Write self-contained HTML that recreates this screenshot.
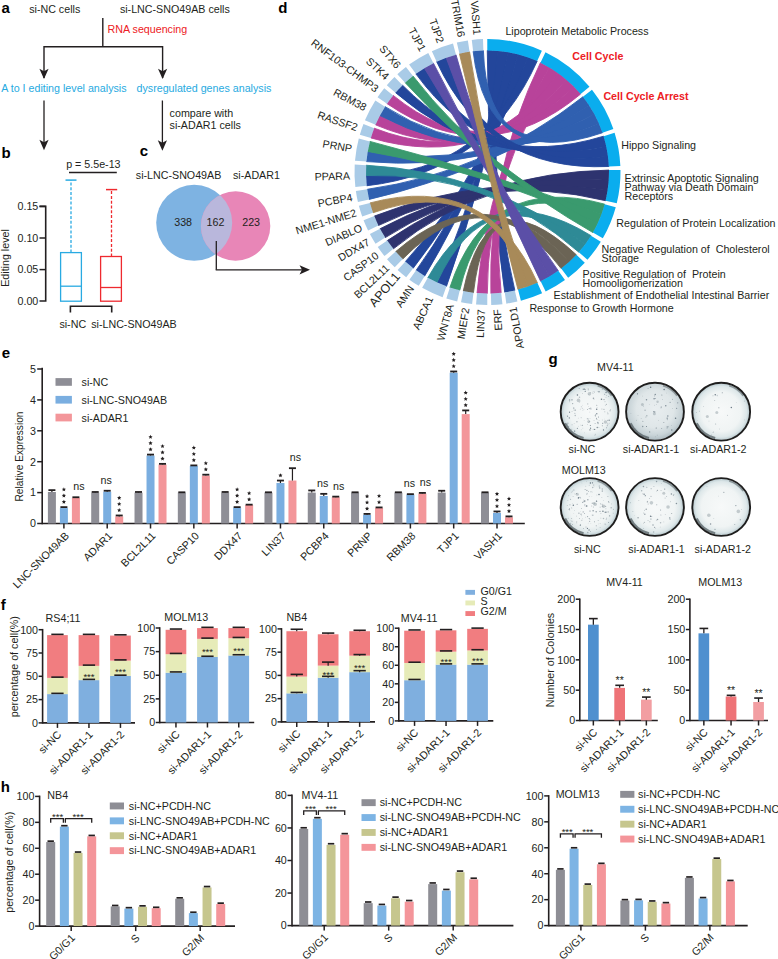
<!DOCTYPE html>
<html><head><meta charset="utf-8"><style>
html,body{margin:0;padding:0;background:#fff;}
svg{display:block;}
</style></head><body>
<svg width="778" height="959" viewBox="0 0 778 959">
<g font-family="'Liberation Sans', sans-serif" font-size="10.70" fill="#231f20">
<text x="1.50" y="12.70" font-size="15.00" fill="#000" font-weight="bold">a</text>
<text x="29.20" y="13.00">si-NC cells</text>
<text x="119.90" y="13.00">si-LNC-SNO49AB cells</text>
<line x1="102.80" y1="18.00" x2="102.80" y2="46.80" stroke="#231f20" stroke-width="1.40"/>
<text x="107.60" y="33.20" fill="#ed2024">RNA sequencing</text>
<path d="M44 78 L44 46.8 L162.6 46.8 L162.6 78" fill="none" stroke="#231f20" stroke-width="1.40"/>
<path d="M44 79.1 L39.4 68.7 L44 71.2 L48.6 68.7 Z" fill="#231f20" stroke="none" stroke-width="1.00"/>
<path d="M162.6 79.1 L158 68.7 L162.6 71.2 L167.2 68.7 Z" fill="#231f20" stroke="none" stroke-width="1.00"/>
<text x="1.20" y="91.80" fill="#27aae1">A to I editing level analysis</text>
<text x="136.50" y="91.80" fill="#27aae1">dysregulated genes analysis</text>
<line x1="44.00" y1="100.50" x2="44.00" y2="144.20" stroke="#231f20" stroke-width="1.30"/>
<path d="M44.00 150.20 L39.40 139.70 L44.00 142.20 L48.60 139.70 Z" fill="#231f20" stroke="none" stroke-width="1.00"/>
<line x1="162.40" y1="100.50" x2="162.40" y2="144.80" stroke="#231f20" stroke-width="1.30"/>
<path d="M162.40 150.80 L157.80 140.30 L162.40 142.80 L167.00 140.30 Z" fill="#231f20" stroke="none" stroke-width="1.00"/>
<text x="169.60" y="117.00">compare with</text>
<text x="169.60" y="129.30">si-ADAR1 cells</text>
<text x="1.50" y="157.50" font-size="15.00" fill="#000" font-weight="bold">b</text>
<text x="66.20" y="167.80">p = 5.5e-13</text>
<line x1="69.00" y1="172.40" x2="116.80" y2="172.40" stroke="#231f20" stroke-width="1.50"/>
<path d="M39.5 206.4 L45.7 206.4 L45.7 301 L39.5 301" fill="none" stroke="#231f20" stroke-width="1.60"/>
<line x1="39.50" y1="206.40" x2="45.70" y2="206.40" stroke="#231f20" stroke-width="1.50"/>
<line x1="39.50" y1="238.00" x2="45.70" y2="238.00" stroke="#231f20" stroke-width="1.50"/>
<line x1="39.50" y1="269.60" x2="45.70" y2="269.60" stroke="#231f20" stroke-width="1.50"/>
<text x="38.30" y="210.10" text-anchor="end">0.15</text>
<text x="38.30" y="241.70" text-anchor="end">0.10</text>
<text x="38.30" y="273.30" text-anchor="end">0.05</text>
<text x="38.30" y="304.70" text-anchor="end">0.00</text>
<text x="8.60" y="258.00" text-anchor="middle" transform="rotate(-90.00 8.60 258.00)">Editing level</text>
<rect x="60.6" y="252.6" width="20.8" height="48.6" fill="none" stroke="#29aae2" stroke-width="1.3"/>
<line x1="60.60" y1="286.20" x2="81.40" y2="286.20" stroke="#29aae2" stroke-width="1.30"/>
<line x1="71.00" y1="252.60" x2="71.00" y2="180.10" stroke="#29aae2" stroke-width="1.30" stroke-dasharray="3 1.8"/>
<line x1="65.50" y1="180.10" x2="76.50" y2="180.10" stroke="#29aae2" stroke-width="1.50"/>
<rect x="100.6" y="256.5" width="20.8" height="44.7" fill="none" stroke="#ee2a2f" stroke-width="1.3"/>
<line x1="100.60" y1="287.50" x2="121.40" y2="287.50" stroke="#ee2a2f" stroke-width="1.30"/>
<line x1="111.50" y1="256.50" x2="111.50" y2="189.60" stroke="#ee2a2f" stroke-width="1.30" stroke-dasharray="3 1.8"/>
<line x1="106.00" y1="189.60" x2="117.20" y2="189.60" stroke="#ee2a2f" stroke-width="1.50"/>
<path d="M70.4 312.5 L70.4 306.3 L111.7 306.3 L111.7 312.5" fill="none" stroke="#231f20" stroke-width="1.60"/>
<text x="59.40" y="327.80">si-NC</text>
<text x="91.20" y="327.80">si-LNC-SNO49AB</text>
<text x="139.80" y="155.50" font-size="15.00" fill="#000" font-weight="bold">c</text>
<text x="135.80" y="179.00">si-LNC-SNO49AB</text>
<text x="233.00" y="179.00">si-ADAR1</text>
<circle cx="194.2" cy="222.8" r="38" fill="#7eb3e2"/>
<circle cx="235.6" cy="226" r="34.7" fill="#e886b7"/>
<clipPath id="cb"><circle cx="194.2" cy="222.8" r="38"/></clipPath>
<circle cx="235.6" cy="226" r="34.7" fill="#b9b7dc" clip-path="url(#cb)"/>
<text x="174.20" y="226.20">338</text>
<text x="206.60" y="226.20">162</text>
<text x="242.20" y="226.20">223</text>
<line x1="216.30" y1="241.00" x2="216.30" y2="269.80" stroke="#231f20" stroke-width="1.30"/>
<line x1="215.70" y1="269.80" x2="304.00" y2="269.80" stroke="#231f20" stroke-width="1.30"/>
<path d="M310.00 269.80 L299.50 265.20 L302.00 269.80 L299.50 274.40 Z" fill="#231f20" stroke="none" stroke-width="1.00"/>
<text x="278.20" y="12.70" font-size="15.00" fill="#000" font-weight="bold">d</text>
<path d="M514.83 290.39 A121.50 121.50 0 0 1 504.73 292.27 Q487.50 172.00 487.29 50.50 A121.50 121.50 0 0 1 497.55 50.92 Q487.50 172.00 514.83 290.39 Z" fill="#23469b" stroke="#23469b" stroke-width="0.90"/>
<path d="M501.16 292.73 A121.50 121.50 0 0 1 490.91 293.45 Q487.50 172.00 540.45 62.64 A121.50 121.50 0 0 1 549.50 67.51 Q487.50 172.00 501.16 292.73 Z" fill="#b8439a" stroke="#b8439a" stroke-width="0.90"/>
<path d="M487.30 293.50 A121.50 121.50 0 0 1 477.04 293.05 Q487.50 172.00 549.50 67.51 A121.50 121.50 0 0 1 558.11 73.12 Q487.50 172.00 487.30 293.50 Z" fill="#b8439a" stroke="#b8439a" stroke-width="0.90"/>
<path d="M473.45 292.68 A121.50 121.50 0 0 1 463.30 291.07 Q487.50 172.00 576.40 254.82 A121.50 121.50 0 0 1 569.08 262.04 Q487.50 172.00 473.45 292.68 Z" fill="#6b6455" stroke="#6b6455" stroke-width="0.90"/>
<path d="M459.78 290.30 A121.50 121.50 0 0 1 449.88 287.53 Q487.50 172.00 604.67 204.14 A121.50 121.50 0 0 1 601.54 213.93 Q487.50 172.00 459.78 290.30 Z" fill="#3a9a6e" stroke="#3a9a6e" stroke-width="0.90"/>
<path d="M446.47 286.36 A121.50 121.50 0 0 1 436.96 282.49 Q487.50 172.00 497.55 50.92 A121.50 121.50 0 0 1 507.75 52.20 Q487.50 172.00 446.47 286.36 Z" fill="#23469b" stroke="#23469b" stroke-width="0.90"/>
<path d="M436.96 282.49 A121.50 121.50 0 0 1 427.80 277.82 Q487.50 172.00 591.01 235.63 A121.50 121.50 0 0 1 585.26 244.15 Q487.50 172.00 436.96 282.49 Z" fill="#2e8a96" stroke="#2e8a96" stroke-width="0.90"/>
<path d="M424.69 276.00 A121.50 121.50 0 0 1 416.13 270.33 Q487.50 172.00 507.75 52.20 A121.50 121.50 0 0 1 517.80 54.34 Q487.50 172.00 424.69 276.00 Z" fill="#23469b" stroke="#23469b" stroke-width="0.90"/>
<path d="M413.24 268.16 A121.50 121.50 0 0 1 405.38 261.55 Q487.50 172.00 517.80 54.34 A121.50 121.50 0 0 1 527.63 57.32 Q487.50 172.00 413.24 268.16 Z" fill="#23469b" stroke="#23469b" stroke-width="0.90"/>
<path d="M402.76 259.07 A121.50 121.50 0 0 1 395.71 251.60 Q487.50 172.00 569.08 262.04 A121.50 121.50 0 0 1 561.18 268.61 Q487.50 172.00 402.76 259.07 Z" fill="#6b6455" stroke="#6b6455" stroke-width="0.90"/>
<path d="M393.38 248.84 A121.50 121.50 0 0 1 387.23 240.61 Q487.50 172.00 608.98 170.09 A121.50 121.50 0 0 1 608.71 180.36 Q487.50 172.00 393.38 248.84 Z" fill="#2e336f" stroke="#2e336f" stroke-width="0.90"/>
<path d="M385.24 237.61 A121.50 121.50 0 0 1 380.06 228.73 Q487.50 172.00 608.71 180.36 A121.50 121.50 0 0 1 607.57 190.57 Q487.50 172.00 385.24 237.61 Z" fill="#2e336f" stroke="#2e336f" stroke-width="0.90"/>
<path d="M378.42 225.52 A121.50 121.50 0 0 1 374.29 216.11 Q487.50 172.00 607.57 190.57 A121.50 121.50 0 0 1 605.57 200.65 Q487.50 172.00 378.42 225.52 Z" fill="#2e336f" stroke="#2e336f" stroke-width="0.90"/>
<path d="M373.03 212.74 A121.50 121.50 0 0 1 370.00 202.92 Q487.50 172.00 537.38 282.79 A121.50 121.50 0 0 1 527.84 286.61 Q487.50 172.00 373.03 212.74 Z" fill="#a88a59" stroke="#a88a59" stroke-width="0.90"/>
<path d="M369.13 199.42 A121.50 121.50 0 0 1 367.24 189.32 Q487.50 172.00 582.94 96.81 A121.50 121.50 0 0 1 588.95 105.15 Q487.50 172.00 369.13 199.42 Z" fill="#3060b0" stroke="#3060b0" stroke-width="0.90"/>
<path d="M366.78 185.74 A121.50 121.50 0 0 1 366.05 175.49 Q487.50 172.00 527.63 57.32 A121.50 121.50 0 0 1 537.18 61.12 Q487.50 172.00 366.78 185.74 Z" fill="#23469b" stroke="#23469b" stroke-width="0.90"/>
<path d="M366.05 175.49 A121.50 121.50 0 0 1 366.19 165.22 Q487.50 172.00 585.26 244.15 A121.50 121.50 0 0 1 578.81 252.15 Q487.50 172.00 366.05 175.49 Z" fill="#2e8a96" stroke="#2e8a96" stroke-width="0.90"/>
<path d="M366.44 161.62 A121.50 121.50 0 0 1 367.75 151.43 Q487.50 172.00 588.95 105.15 A121.50 121.50 0 0 1 594.24 113.96 Q487.50 172.00 366.44 161.62 Z" fill="#3060b0" stroke="#3060b0" stroke-width="0.90"/>
<path d="M367.75 151.43 A121.50 121.50 0 0 1 369.92 141.39 Q487.50 172.00 601.54 213.93 A121.50 121.50 0 0 1 597.59 223.41 Q487.50 172.00 367.75 151.43 Z" fill="#3a9a6e" stroke="#3a9a6e" stroke-width="0.90"/>
<path d="M370.88 137.91 A121.50 121.50 0 0 1 374.18 128.18 Q487.50 172.00 558.11 73.12 A121.50 121.50 0 0 1 566.21 79.44 Q487.50 172.00 370.88 137.91 Z" fill="#b8439a" stroke="#b8439a" stroke-width="0.90"/>
<path d="M375.53 124.84 A121.50 121.50 0 0 1 379.91 115.55 Q487.50 172.00 566.21 79.44 A121.50 121.50 0 0 1 573.75 86.42 Q487.50 172.00 375.53 124.84 Z" fill="#b8439a" stroke="#b8439a" stroke-width="0.90"/>
<path d="M379.91 115.55 A121.50 121.50 0 0 1 385.07 106.66 Q487.50 172.00 594.24 113.96 A121.50 121.50 0 0 1 598.76 123.18 Q487.50 172.00 379.91 115.55 Z" fill="#3060b0" stroke="#3060b0" stroke-width="0.90"/>
<path d="M387.05 103.65 A121.50 121.50 0 0 1 393.18 95.40 Q487.50 172.00 573.75 86.42 A121.50 121.50 0 0 1 580.67 94.02 Q487.50 172.00 387.05 103.65 Z" fill="#b8439a" stroke="#b8439a" stroke-width="0.90"/>
<path d="M395.50 92.64 A121.50 121.50 0 0 1 402.53 85.15 Q487.50 172.00 603.60 136.19 A121.50 121.50 0 0 1 606.21 146.13 Q487.50 172.00 395.50 92.64 Z" fill="#23469b" stroke="#23469b" stroke-width="0.90"/>
<path d="M405.15 82.67 A121.50 121.50 0 0 1 412.99 76.03 Q487.50 172.00 597.59 223.41 A121.50 121.50 0 0 1 592.85 232.53 Q487.50 172.00 405.15 82.67 Z" fill="#3a9a6e" stroke="#3a9a6e" stroke-width="0.90"/>
<path d="M415.87 73.86 A121.50 121.50 0 0 1 424.42 68.16 Q487.50 172.00 606.21 146.13 A121.50 121.50 0 0 1 607.97 156.25 Q487.50 172.00 415.87 73.86 Z" fill="#23469b" stroke="#23469b" stroke-width="0.90"/>
<path d="M424.42 68.16 A121.50 121.50 0 0 1 433.42 63.20 Q487.50 172.00 558.28 270.75 A121.50 121.50 0 0 1 549.68 276.38 Q487.50 172.00 424.42 68.16 Z" fill="#5b4fa7" stroke="#5b4fa7" stroke-width="0.90"/>
<path d="M436.67 61.64 A121.50 121.50 0 0 1 446.18 57.74 Q487.50 172.00 607.97 156.25 A121.50 121.50 0 0 1 608.87 166.49 Q487.50 172.00 436.67 61.64 Z" fill="#23469b" stroke="#23469b" stroke-width="0.90"/>
<path d="M446.18 57.74 A121.50 121.50 0 0 1 455.98 54.66 Q487.50 172.00 549.68 276.38 A121.50 121.50 0 0 1 540.64 281.26 Q487.50 172.00 446.18 57.74 Z" fill="#5b4fa7" stroke="#5b4fa7" stroke-width="0.90"/>
<path d="M459.47 53.78 A121.50 121.50 0 0 1 469.56 51.83 Q487.50 172.00 527.84 286.61 A121.50 121.50 0 0 1 518.01 289.61 Q487.50 172.00 459.47 53.78 Z" fill="#a88a59" stroke="#a88a59" stroke-width="0.90"/>
<path d="M473.13 51.35 A121.50 121.50 0 0 1 483.38 50.57 Q487.50 172.00 598.76 123.18 A121.50 121.50 0 0 1 602.49 132.76 Q487.50 172.00 473.13 51.35 Z" fill="#3060b0" stroke="#3060b0" stroke-width="0.90"/>
<path d="M487.27 39.00 A133.00 133.00 0 0 1 541.88 50.63 L537.18 61.12 A121.50 121.50 0 0 0 487.29 50.50 Z" fill="#0aadee" stroke="none" stroke-width="1.00"/>
<path d="M545.46 52.29 A133.00 133.00 0 0 1 589.49 86.63 L580.67 94.02 A121.50 121.50 0 0 0 540.45 62.64 Z" fill="#0aadee" stroke="none" stroke-width="1.00"/>
<path d="M591.98 89.70 A133.00 133.00 0 0 1 613.37 129.05 L602.49 132.76 A121.50 121.50 0 0 0 582.94 96.81 Z" fill="#0aadee" stroke="none" stroke-width="1.00"/>
<path d="M614.59 132.80 A133.00 133.00 0 0 1 620.36 165.96 L608.87 166.49 A121.50 121.50 0 0 0 603.60 136.19 Z" fill="#0aadee" stroke="none" stroke-width="1.00"/>
<path d="M620.48 169.91 A133.00 133.00 0 0 1 616.75 203.36 L605.57 200.65 A121.50 121.50 0 0 0 608.98 170.09 Z" fill="#0aadee" stroke="none" stroke-width="1.00"/>
<path d="M615.76 207.18 A133.00 133.00 0 0 1 602.82 238.26 L592.85 232.53 A121.50 121.50 0 0 0 604.67 204.14 Z" fill="#0aadee" stroke="none" stroke-width="1.00"/>
<path d="M600.80 241.65 A133.00 133.00 0 0 1 587.46 259.74 L578.81 252.15 A121.50 121.50 0 0 0 591.01 235.63 Z" fill="#0aadee" stroke="none" stroke-width="1.00"/>
<path d="M584.81 262.66 A133.00 133.00 0 0 1 568.15 277.75 L561.18 268.61 A121.50 121.50 0 0 0 576.40 254.82 Z" fill="#0aadee" stroke="none" stroke-width="1.00"/>
<path d="M564.98 280.10 A133.00 133.00 0 0 1 545.67 291.60 L540.64 281.26 A121.50 121.50 0 0 0 558.28 270.75 Z" fill="#0aadee" stroke="none" stroke-width="1.00"/>
<path d="M542.10 293.28 A133.00 133.00 0 0 1 520.90 300.74 L518.01 289.61 A121.50 121.50 0 0 0 537.38 282.79 Z" fill="#0aadee" stroke="none" stroke-width="1.00"/>
<path d="M517.42 301.59 A133.00 133.00 0 0 1 506.36 303.66 L504.73 292.27 A121.50 121.50 0 0 0 514.83 290.39 Z" fill="#a9cbe7" stroke="none" stroke-width="1.00"/>
<path d="M502.45 304.16 A133.00 133.00 0 0 1 491.23 304.95 L490.91 293.45 A121.50 121.50 0 0 0 501.16 292.73 Z" fill="#a9cbe7" stroke="none" stroke-width="1.00"/>
<path d="M487.28 305.00 A133.00 133.00 0 0 1 476.04 304.51 L477.04 293.05 A121.50 121.50 0 0 0 487.30 293.50 Z" fill="#a9cbe7" stroke="none" stroke-width="1.00"/>
<path d="M472.12 304.11 A133.00 133.00 0 0 1 461.01 302.34 L463.30 291.07 A121.50 121.50 0 0 0 473.45 292.68 Z" fill="#a9cbe7" stroke="none" stroke-width="1.00"/>
<path d="M457.16 301.49 A133.00 133.00 0 0 1 446.32 298.47 L449.88 287.53 A121.50 121.50 0 0 0 459.78 290.30 Z" fill="#a9cbe7" stroke="none" stroke-width="1.00"/>
<path d="M442.59 297.19 A133.00 133.00 0 0 1 422.15 287.84 L427.80 277.82 A121.50 121.50 0 0 0 446.47 286.36 Z" fill="#a9cbe7" stroke="none" stroke-width="1.00"/>
<path d="M418.74 285.85 A133.00 133.00 0 0 1 409.37 279.63 L416.13 270.33 A121.50 121.50 0 0 0 424.69 276.00 Z" fill="#a9cbe7" stroke="none" stroke-width="1.00"/>
<path d="M406.21 277.27 A133.00 133.00 0 0 1 397.61 270.02 L405.38 261.55 A121.50 121.50 0 0 0 413.24 268.16 Z" fill="#a9cbe7" stroke="none" stroke-width="1.00"/>
<path d="M394.74 267.31 A133.00 133.00 0 0 1 387.02 259.13 L395.71 251.60 A121.50 121.50 0 0 0 402.76 259.07 Z" fill="#a9cbe7" stroke="none" stroke-width="1.00"/>
<path d="M384.48 256.11 A133.00 133.00 0 0 1 377.74 247.11 L387.23 240.61 A121.50 121.50 0 0 0 393.38 248.84 Z" fill="#a9cbe7" stroke="none" stroke-width="1.00"/>
<path d="M375.56 243.82 A133.00 133.00 0 0 1 369.89 234.10 L380.06 228.73 A121.50 121.50 0 0 0 385.24 237.61 Z" fill="#a9cbe7" stroke="none" stroke-width="1.00"/>
<path d="M368.10 230.59 A133.00 133.00 0 0 1 363.58 220.29 L374.29 216.11 A121.50 121.50 0 0 0 378.42 225.52 Z" fill="#a9cbe7" stroke="none" stroke-width="1.00"/>
<path d="M362.20 216.59 A133.00 133.00 0 0 1 358.88 205.84 L370.00 202.92 A121.50 121.50 0 0 0 373.03 212.74 Z" fill="#a9cbe7" stroke="none" stroke-width="1.00"/>
<path d="M357.93 202.01 A133.00 133.00 0 0 1 355.86 190.96 L367.24 189.32 A121.50 121.50 0 0 0 369.13 199.42 Z" fill="#a9cbe7" stroke="none" stroke-width="1.00"/>
<path d="M355.35 187.04 A133.00 133.00 0 0 1 354.71 164.58 L366.19 165.22 A121.50 121.50 0 0 0 366.78 185.74 Z" fill="#a9cbe7" stroke="none" stroke-width="1.00"/>
<path d="M354.99 160.64 A133.00 133.00 0 0 1 358.79 138.49 L369.92 141.39 A121.50 121.50 0 0 0 366.44 161.62 Z" fill="#a9cbe7" stroke="none" stroke-width="1.00"/>
<path d="M359.84 134.69 A133.00 133.00 0 0 1 363.45 124.03 L374.18 128.18 A121.50 121.50 0 0 0 370.88 137.91 Z" fill="#a9cbe7" stroke="none" stroke-width="1.00"/>
<path d="M364.93 120.37 A133.00 133.00 0 0 1 375.37 100.47 L385.07 106.66 A121.50 121.50 0 0 0 375.53 124.84 Z" fill="#a9cbe7" stroke="none" stroke-width="1.00"/>
<path d="M377.54 97.18 A133.00 133.00 0 0 1 384.26 88.15 L393.18 95.40 A121.50 121.50 0 0 0 387.05 103.65 Z" fill="#a9cbe7" stroke="none" stroke-width="1.00"/>
<path d="M386.79 85.13 A133.00 133.00 0 0 1 394.49 76.93 L402.53 85.15 A121.50 121.50 0 0 0 395.50 92.64 Z" fill="#a9cbe7" stroke="none" stroke-width="1.00"/>
<path d="M397.35 74.21 A133.00 133.00 0 0 1 405.94 66.94 L412.99 76.03 A121.50 121.50 0 0 0 405.15 82.67 Z" fill="#a9cbe7" stroke="none" stroke-width="1.00"/>
<path d="M409.09 64.57 A133.00 133.00 0 0 1 428.30 52.90 L433.42 63.20 A121.50 121.50 0 0 0 415.87 73.86 Z" fill="#a9cbe7" stroke="none" stroke-width="1.00"/>
<path d="M431.86 51.20 A133.00 133.00 0 0 1 452.99 43.55 L455.98 54.66 A121.50 121.50 0 0 0 436.67 61.64 Z" fill="#a9cbe7" stroke="none" stroke-width="1.00"/>
<path d="M456.82 42.59 A133.00 133.00 0 0 1 467.86 40.46 L469.56 51.83 A121.50 121.50 0 0 0 459.47 53.78 Z" fill="#a9cbe7" stroke="none" stroke-width="1.00"/>
<path d="M471.78 39.93 A133.00 133.00 0 0 1 482.99 39.08 L483.38 50.57 A121.50 121.50 0 0 0 473.13 51.35 Z" fill="#a9cbe7" stroke="none" stroke-width="1.00"/>
<text x="516.28" y="306.50" text-anchor="end" transform="rotate(-100.58 516.28 306.50)">APOLD1</text>
<text x="500.75" y="308.91" text-anchor="end" transform="rotate(-94.03 500.75 308.91)">ERF</text>
<text x="485.06" y="309.53" text-anchor="end" transform="rotate(-87.48 485.06 309.53)">LIN37</text>
<text x="469.39" y="308.35" text-anchor="end" transform="rotate(-80.94 469.39 308.35)">MIEF2</text>
<text x="453.96" y="305.40" text-anchor="end" transform="rotate(-74.39 453.96 305.40)">WNT8A</text>
<text x="433.57" y="298.54" text-anchor="end" transform="rotate(-65.42 433.57 298.54)">ABCA1</text>
<text x="414.50" y="288.58" text-anchor="end" transform="rotate(-56.45 414.50 288.58)">AMN</text>
<text x="400.82" y="276.81" font-size="12.50" text-anchor="end" transform="rotate(-49.90 400.82 276.81)">APOL1</text>
<text x="389.99" y="269.01" text-anchor="end" transform="rotate(-43.35 389.99 269.01)">BCL2L11</text>
<text x="379.57" y="257.26" text-anchor="end" transform="rotate(-36.81 379.57 257.26)">CASP10</text>
<text x="370.55" y="244.40" text-anchor="end" transform="rotate(-30.26 370.55 244.40)">DDX47</text>
<text x="363.06" y="230.59" text-anchor="end" transform="rotate(-23.71 363.06 230.59)">DIABLO</text>
<text x="357.19" y="216.02" text-anchor="end" transform="rotate(-17.17 357.19 216.02)">NME1-NME2</text>
<text x="353.02" y="200.88" text-anchor="end" transform="rotate(-10.62 353.02 200.88)">PCBP4</text>
<text x="350.16" y="179.55" text-anchor="end" transform="rotate(-1.65 350.16 179.55)">PPARA</text>
<text x="351.38" y="152.27" text-anchor="end" transform="rotate(9.75 351.38 152.27)">PRNP</text>
<text x="356.12" y="131.29" text-anchor="end" transform="rotate(18.72 356.12 131.29)">RASSF2</text>
<text x="364.07" y="111.30" text-anchor="end" transform="rotate(27.69 364.07 111.30)">RBM38</text>
<text x="375.05" y="92.80" text-anchor="end" transform="rotate(36.66 375.05 92.80)">RNF103-CHMP3</text>
<text x="384.81" y="80.49" text-anchor="end" transform="rotate(43.20 384.81 80.49)">STK4</text>
<text x="395.91" y="69.38" text-anchor="end" transform="rotate(49.75 395.91 69.38)">STX6</text>
<text x="419.82" y="52.26" text-anchor="end" transform="rotate(62.02 419.82 52.26)">TJP1</text>
<text x="437.35" y="43.92" text-anchor="end" transform="rotate(70.12 437.35 43.92)">TJP2</text>
<text x="457.93" y="37.67" text-anchor="end" transform="rotate(79.09 457.93 37.67)">TRIM16</text>
<text x="473.44" y="35.17" text-anchor="end" transform="rotate(85.63 473.44 35.17)">VASH1</text>
<text x="505.40" y="35.00">Lipoprotein Metabolic Process</text>
<text x="572.30" y="59.60" fill="#ed2024" font-weight="bold">Cell Cycle</text>
<text x="603.40" y="100.40" fill="#ed2024" font-weight="bold">Cell Cycle Arrest</text>
<text x="621.20" y="149.30">Hippo Signaling</text>
<text x="624.50" y="181.50">Extrinsic Apoptotic Signaling</text>
<text x="624.50" y="190.70">Pathway via Death Domain</text>
<text x="624.50" y="199.90">Receptors</text>
<text x="616.30" y="226.50">Regulation of Protein Localization</text>
<text x="601.60" y="253.10">Negative Regulation of  Cholesterol</text>
<text x="601.60" y="262.30">Storage</text>
<text x="582.60" y="277.60">Positive Regulation of  Protein</text>
<text x="582.60" y="286.80">Homooligomerization</text>
<text x="553.60" y="299.00">Establishment of Endothelial Intestinal Barrier</text>
<text x="529.40" y="312.00">Response to Growth Hormone</text>
<text x="1.80" y="358.30" font-size="15.00" fill="#000" font-weight="bold">e</text>
<line x1="42.20" y1="367.80" x2="42.20" y2="524.30" stroke="#231f20" stroke-width="1.60"/>
<line x1="37.20" y1="523.50" x2="42.20" y2="523.50" stroke="#231f20" stroke-width="1.50"/>
<text x="35.90" y="527.30" text-anchor="end">0</text>
<line x1="37.20" y1="492.60" x2="42.20" y2="492.60" stroke="#231f20" stroke-width="1.50"/>
<text x="35.90" y="496.40" text-anchor="end">1</text>
<line x1="37.20" y1="461.70" x2="42.20" y2="461.70" stroke="#231f20" stroke-width="1.50"/>
<text x="35.90" y="465.50" text-anchor="end">2</text>
<line x1="37.20" y1="430.80" x2="42.20" y2="430.80" stroke="#231f20" stroke-width="1.50"/>
<text x="35.90" y="434.60" text-anchor="end">3</text>
<line x1="37.20" y1="399.90" x2="42.20" y2="399.90" stroke="#231f20" stroke-width="1.50"/>
<text x="35.90" y="403.70" text-anchor="end">4</text>
<line x1="37.20" y1="369.00" x2="42.20" y2="369.00" stroke="#231f20" stroke-width="1.50"/>
<text x="35.90" y="372.80" text-anchor="end">5</text>
<line x1="42.20" y1="523.50" x2="524.80" y2="523.50" stroke="#231f20" stroke-width="1.60"/>
<text x="23.40" y="456.50" font-size="10.20" text-anchor="middle" transform="rotate(-90.00 23.40 456.50)">Relative Expression</text>
<rect x="55.50" y="378.10" width="16.40" height="7.70" fill="#8e8e96"/>
<text x="81.60" y="385.90">si-NC</text>
<rect x="55.50" y="395.90" width="16.40" height="7.70" fill="#7aaee0"/>
<text x="81.60" y="403.70">si-LNC-SNO49AB</text>
<rect x="55.50" y="413.70" width="16.40" height="7.70" fill="#f3969a"/>
<text x="81.60" y="421.50">si-ADAR1</text>
<rect x="47.90" y="491.98" width="8.00" height="31.52" fill="#8e8e96"/>
<line x1="51.90" y1="491.98" x2="51.90" y2="490.13" stroke="#231f20" stroke-width="1.20"/>
<line x1="48.40" y1="490.13" x2="55.40" y2="490.13" stroke="#231f20" stroke-width="1.80"/>
<rect x="59.90" y="508.05" width="8.00" height="15.45" fill="#7aaee0"/>
<line x1="63.90" y1="508.05" x2="63.90" y2="507.12" stroke="#231f20" stroke-width="1.20"/>
<line x1="60.40" y1="507.12" x2="67.40" y2="507.12" stroke="#231f20" stroke-width="1.80"/>
<rect x="71.90" y="497.85" width="8.00" height="25.65" fill="#f3969a"/>
<line x1="75.90" y1="497.85" x2="75.90" y2="497.24" stroke="#231f20" stroke-width="1.20"/>
<line x1="72.40" y1="497.24" x2="79.40" y2="497.24" stroke="#231f20" stroke-width="1.80"/>
<polygon points="63.90 499.72 64.52 501.07 65.99 501.24 64.90 502.25 65.19 503.70 63.90 502.98 62.61 503.70 62.90 502.25 61.81 501.24 63.28 501.07" fill="#231f20"/>
<polygon points="63.90 493.52 64.52 494.87 65.99 495.04 64.90 496.05 65.19 497.50 63.90 496.78 62.61 497.50 62.90 496.05 61.81 495.04 63.28 494.87" fill="#231f20"/>
<polygon points="63.90 487.32 64.52 488.67 65.99 488.84 64.90 489.85 65.19 491.30 63.90 490.58 62.61 491.30 62.90 489.85 61.81 488.84 63.28 488.67" fill="#231f20"/>
<text x="78.90" y="490.24" text-anchor="middle">ns</text>
<line x1="63.90" y1="523.50" x2="63.90" y2="528.50" stroke="#231f20" stroke-width="1.50"/>
<text x="69.70" y="536.50" text-anchor="end" transform="rotate(-45.00 69.70 536.50)">LNC-SNO49AB</text>
<rect x="91.21" y="492.60" width="8.00" height="30.90" fill="#8e8e96"/>
<line x1="95.21" y1="492.60" x2="95.21" y2="491.98" stroke="#231f20" stroke-width="1.20"/>
<line x1="91.71" y1="491.98" x2="98.71" y2="491.98" stroke="#231f20" stroke-width="1.80"/>
<rect x="103.21" y="491.67" width="8.00" height="31.83" fill="#7aaee0"/>
<line x1="107.21" y1="491.67" x2="107.21" y2="490.75" stroke="#231f20" stroke-width="1.20"/>
<line x1="103.71" y1="490.75" x2="110.71" y2="490.75" stroke="#231f20" stroke-width="1.80"/>
<rect x="115.21" y="516.39" width="8.00" height="7.11" fill="#f3969a"/>
<line x1="119.21" y1="516.39" x2="119.21" y2="515.47" stroke="#231f20" stroke-width="1.20"/>
<line x1="115.71" y1="515.47" x2="122.71" y2="515.47" stroke="#231f20" stroke-width="1.80"/>
<text x="106.21" y="483.75" text-anchor="middle">ns</text>
<polygon points="119.21 508.07 119.83 509.41 121.30 509.59 120.21 510.59 120.50 512.05 119.21 511.32 117.92 512.05 118.21 510.59 117.12 509.59 118.59 509.41" fill="#231f20"/>
<polygon points="119.21 501.87 119.83 503.21 121.30 503.39 120.21 504.39 120.50 505.85 119.21 505.12 117.92 505.85 118.21 504.39 117.12 503.39 118.59 503.21" fill="#231f20"/>
<polygon points="119.21 495.67 119.83 497.01 121.30 497.19 120.21 498.19 120.50 499.65 119.21 498.92 117.92 499.65 118.21 498.19 117.12 497.19 118.59 497.01" fill="#231f20"/>
<line x1="107.21" y1="523.50" x2="107.21" y2="528.50" stroke="#231f20" stroke-width="1.50"/>
<text x="113.01" y="536.50" text-anchor="end" transform="rotate(-45.00 113.01 536.50)">ADAR1</text>
<rect x="134.52" y="492.60" width="8.00" height="30.90" fill="#8e8e96"/>
<line x1="138.52" y1="492.60" x2="138.52" y2="491.98" stroke="#231f20" stroke-width="1.20"/>
<line x1="135.02" y1="491.98" x2="142.02" y2="491.98" stroke="#231f20" stroke-width="1.80"/>
<rect x="146.52" y="455.52" width="8.00" height="67.98" fill="#7aaee0"/>
<line x1="150.52" y1="455.52" x2="150.52" y2="454.59" stroke="#231f20" stroke-width="1.20"/>
<line x1="147.02" y1="454.59" x2="154.02" y2="454.59" stroke="#231f20" stroke-width="1.80"/>
<rect x="158.52" y="464.48" width="8.00" height="59.02" fill="#f3969a"/>
<line x1="162.52" y1="464.48" x2="162.52" y2="463.86" stroke="#231f20" stroke-width="1.20"/>
<line x1="159.02" y1="463.86" x2="166.02" y2="463.86" stroke="#231f20" stroke-width="1.80"/>
<polygon points="150.52 447.19 151.14 448.54 152.61 448.71 151.52 449.72 151.81 451.17 150.52 450.45 149.23 451.17 149.52 449.72 148.43 448.71 149.90 448.54" fill="#231f20"/>
<polygon points="150.52 440.99 151.14 442.34 152.61 442.51 151.52 443.52 151.81 444.97 150.52 444.25 149.23 444.97 149.52 443.52 148.43 442.51 149.90 442.34" fill="#231f20"/>
<polygon points="150.52 434.79 151.14 436.14 152.61 436.31 151.52 437.32 151.81 438.77 150.52 438.05 149.23 438.77 149.52 437.32 148.43 436.31 149.90 436.14" fill="#231f20"/>
<polygon points="162.52 456.46 163.14 457.81 164.61 457.98 163.52 458.99 163.81 460.44 162.52 459.72 161.23 460.44 161.52 458.99 160.43 457.98 161.90 457.81" fill="#231f20"/>
<polygon points="162.52 450.26 163.14 451.61 164.61 451.78 163.52 452.79 163.81 454.24 162.52 453.52 161.23 454.24 161.52 452.79 160.43 451.78 161.90 451.61" fill="#231f20"/>
<polygon points="162.52 444.06 163.14 445.41 164.61 445.58 163.52 446.59 163.81 448.04 162.52 447.32 161.23 448.04 161.52 446.59 160.43 445.58 161.90 445.41" fill="#231f20"/>
<line x1="150.52" y1="523.50" x2="150.52" y2="528.50" stroke="#231f20" stroke-width="1.50"/>
<text x="156.32" y="536.50" text-anchor="end" transform="rotate(-45.00 156.32 536.50)">BCL2L11</text>
<rect x="177.83" y="492.60" width="8.00" height="30.90" fill="#8e8e96"/>
<line x1="178.33" y1="492.29" x2="185.33" y2="492.29" stroke="#231f20" stroke-width="1.80"/>
<rect x="189.83" y="466.03" width="8.00" height="57.47" fill="#7aaee0"/>
<line x1="193.83" y1="466.03" x2="193.83" y2="465.41" stroke="#231f20" stroke-width="1.20"/>
<line x1="190.33" y1="465.41" x2="197.33" y2="465.41" stroke="#231f20" stroke-width="1.80"/>
<rect x="201.83" y="475.61" width="8.00" height="47.89" fill="#f3969a"/>
<line x1="205.83" y1="475.61" x2="205.83" y2="474.68" stroke="#231f20" stroke-width="1.20"/>
<line x1="202.33" y1="474.68" x2="209.33" y2="474.68" stroke="#231f20" stroke-width="1.80"/>
<polygon points="193.83 458.01 194.45 459.35 195.92 459.53 194.83 460.53 195.12 461.99 193.83 461.26 192.54 461.99 192.83 460.53 191.74 459.53 193.21 459.35" fill="#231f20"/>
<polygon points="193.83 451.81 194.45 453.15 195.92 453.33 194.83 454.33 195.12 455.79 193.83 455.06 192.54 455.79 192.83 454.33 191.74 453.33 193.21 453.15" fill="#231f20"/>
<polygon points="193.83 445.61 194.45 446.95 195.92 447.13 194.83 448.13 195.12 449.59 193.83 448.86 192.54 449.59 192.83 448.13 191.74 447.13 193.21 446.95" fill="#231f20"/>
<polygon points="205.83 467.28 206.45 468.62 207.92 468.80 206.83 469.80 207.12 471.26 205.83 470.53 204.54 471.26 204.83 469.80 203.74 468.80 205.21 468.62" fill="#231f20"/>
<polygon points="205.83 461.08 206.45 462.42 207.92 462.60 206.83 463.60 207.12 465.06 205.83 464.33 204.54 465.06 204.83 463.60 203.74 462.60 205.21 462.42" fill="#231f20"/>
<line x1="193.83" y1="523.50" x2="193.83" y2="528.50" stroke="#231f20" stroke-width="1.50"/>
<text x="199.63" y="536.50" text-anchor="end" transform="rotate(-45.00 199.63 536.50)">CASP10</text>
<rect x="221.14" y="492.60" width="8.00" height="30.90" fill="#8e8e96"/>
<line x1="225.14" y1="492.60" x2="225.14" y2="491.98" stroke="#231f20" stroke-width="1.20"/>
<line x1="221.64" y1="491.98" x2="228.64" y2="491.98" stroke="#231f20" stroke-width="1.80"/>
<rect x="233.14" y="507.74" width="8.00" height="15.76" fill="#7aaee0"/>
<line x1="237.14" y1="507.74" x2="237.14" y2="507.12" stroke="#231f20" stroke-width="1.20"/>
<line x1="233.64" y1="507.12" x2="240.64" y2="507.12" stroke="#231f20" stroke-width="1.80"/>
<rect x="245.14" y="504.96" width="8.00" height="18.54" fill="#f3969a"/>
<line x1="245.64" y1="504.65" x2="252.64" y2="504.65" stroke="#231f20" stroke-width="1.80"/>
<polygon points="237.14 499.72 237.76 501.07 239.23 501.24 238.14 502.25 238.43 503.70 237.14 502.98 235.85 503.70 236.14 502.25 235.05 501.24 236.52 501.07" fill="#231f20"/>
<polygon points="237.14 493.52 237.76 494.87 239.23 495.04 238.14 496.05 238.43 497.50 237.14 496.78 235.85 497.50 236.14 496.05 235.05 495.04 236.52 494.87" fill="#231f20"/>
<polygon points="237.14 487.32 237.76 488.67 239.23 488.84 238.14 489.85 238.43 491.30 237.14 490.58 235.85 491.30 236.14 489.85 235.05 488.84 236.52 488.67" fill="#231f20"/>
<polygon points="249.14 497.25 249.76 498.60 251.23 498.77 250.14 499.78 250.43 501.23 249.14 500.51 247.85 501.23 248.14 499.78 247.05 498.77 248.52 498.60" fill="#231f20"/>
<polygon points="249.14 491.05 249.76 492.40 251.23 492.57 250.14 493.58 250.43 495.03 249.14 494.31 247.85 495.03 248.14 493.58 247.05 492.57 248.52 492.40" fill="#231f20"/>
<line x1="237.14" y1="523.50" x2="237.14" y2="528.50" stroke="#231f20" stroke-width="1.50"/>
<text x="242.94" y="536.50" text-anchor="end" transform="rotate(-45.00 242.94 536.50)">DDX47</text>
<rect x="264.45" y="492.60" width="8.00" height="30.90" fill="#8e8e96"/>
<line x1="264.95" y1="492.29" x2="271.95" y2="492.29" stroke="#231f20" stroke-width="1.80"/>
<rect x="276.45" y="483.02" width="8.00" height="40.48" fill="#7aaee0"/>
<line x1="280.45" y1="483.02" x2="280.45" y2="480.55" stroke="#231f20" stroke-width="1.20"/>
<line x1="276.95" y1="480.55" x2="283.95" y2="480.55" stroke="#231f20" stroke-width="1.80"/>
<rect x="288.45" y="480.55" width="8.00" height="42.95" fill="#f3969a"/>
<line x1="292.45" y1="480.55" x2="292.45" y2="468.19" stroke="#231f20" stroke-width="1.20"/>
<line x1="288.95" y1="468.19" x2="295.95" y2="468.19" stroke="#231f20" stroke-width="1.80"/>
<polygon points="280.45 473.15 281.07 474.49 282.54 474.67 281.45 475.68 281.74 477.13 280.45 476.40 279.16 477.13 279.45 475.68 278.36 474.67 279.83 474.49" fill="#231f20"/>
<text x="295.45" y="461.19" text-anchor="middle">ns</text>
<line x1="280.45" y1="523.50" x2="280.45" y2="528.50" stroke="#231f20" stroke-width="1.50"/>
<text x="286.25" y="536.50" text-anchor="end" transform="rotate(-45.00 286.25 536.50)">LIN37</text>
<rect x="307.76" y="492.60" width="8.00" height="30.90" fill="#8e8e96"/>
<line x1="311.76" y1="492.60" x2="311.76" y2="490.44" stroke="#231f20" stroke-width="1.20"/>
<line x1="308.26" y1="490.44" x2="315.26" y2="490.44" stroke="#231f20" stroke-width="1.80"/>
<rect x="319.76" y="496.00" width="8.00" height="27.50" fill="#7aaee0"/>
<line x1="323.76" y1="496.00" x2="323.76" y2="493.84" stroke="#231f20" stroke-width="1.20"/>
<line x1="320.26" y1="493.84" x2="327.26" y2="493.84" stroke="#231f20" stroke-width="1.80"/>
<rect x="331.76" y="497.24" width="8.00" height="26.26" fill="#f3969a"/>
<line x1="335.76" y1="497.24" x2="335.76" y2="496.62" stroke="#231f20" stroke-width="1.20"/>
<line x1="332.26" y1="496.62" x2="339.26" y2="496.62" stroke="#231f20" stroke-width="1.80"/>
<text x="322.76" y="486.84" text-anchor="middle">ns</text>
<text x="338.76" y="489.62" text-anchor="middle">ns</text>
<line x1="323.76" y1="523.50" x2="323.76" y2="528.50" stroke="#231f20" stroke-width="1.50"/>
<text x="329.56" y="536.50" text-anchor="end" transform="rotate(-45.00 329.56 536.50)">PCBP4</text>
<rect x="351.07" y="492.60" width="8.00" height="30.90" fill="#8e8e96"/>
<line x1="351.57" y1="492.29" x2="358.57" y2="492.29" stroke="#231f20" stroke-width="1.80"/>
<rect x="363.07" y="514.85" width="8.00" height="8.65" fill="#7aaee0"/>
<line x1="367.07" y1="514.85" x2="367.07" y2="513.92" stroke="#231f20" stroke-width="1.20"/>
<line x1="363.57" y1="513.92" x2="370.57" y2="513.92" stroke="#231f20" stroke-width="1.80"/>
<rect x="375.07" y="508.05" width="8.00" height="15.45" fill="#f3969a"/>
<line x1="379.07" y1="508.05" x2="379.07" y2="507.43" stroke="#231f20" stroke-width="1.20"/>
<line x1="375.57" y1="507.43" x2="382.57" y2="507.43" stroke="#231f20" stroke-width="1.80"/>
<polygon points="367.07 506.52 367.69 507.87 369.16 508.04 368.07 509.05 368.36 510.50 367.07 509.78 365.78 510.50 366.07 509.05 364.98 508.04 366.45 507.87" fill="#231f20"/>
<polygon points="367.07 500.32 367.69 501.67 369.16 501.84 368.07 502.85 368.36 504.30 367.07 503.58 365.78 504.30 366.07 502.85 364.98 501.84 366.45 501.67" fill="#231f20"/>
<polygon points="367.07 494.12 367.69 495.47 369.16 495.64 368.07 496.65 368.36 498.10 367.07 497.38 365.78 498.10 366.07 496.65 364.98 495.64 366.45 495.47" fill="#231f20"/>
<polygon points="379.07 500.03 379.69 501.38 381.16 501.55 380.07 502.56 380.36 504.01 379.07 503.29 377.78 504.01 378.07 502.56 376.98 501.55 378.45 501.38" fill="#231f20"/>
<polygon points="379.07 493.83 379.69 495.18 381.16 495.35 380.07 496.36 380.36 497.81 379.07 497.09 377.78 497.81 378.07 496.36 376.98 495.35 378.45 495.18" fill="#231f20"/>
<line x1="367.07" y1="523.50" x2="367.07" y2="528.50" stroke="#231f20" stroke-width="1.50"/>
<text x="372.87" y="536.50" text-anchor="end" transform="rotate(-45.00 372.87 536.50)">PRNP</text>
<rect x="394.38" y="492.60" width="8.00" height="30.90" fill="#8e8e96"/>
<line x1="394.88" y1="492.29" x2="401.88" y2="492.29" stroke="#231f20" stroke-width="1.80"/>
<rect x="406.38" y="494.45" width="8.00" height="29.05" fill="#7aaee0"/>
<line x1="406.88" y1="494.14" x2="413.88" y2="494.14" stroke="#231f20" stroke-width="1.80"/>
<rect x="418.38" y="493.53" width="8.00" height="29.97" fill="#f3969a"/>
<line x1="422.38" y1="493.53" x2="422.38" y2="492.91" stroke="#231f20" stroke-width="1.20"/>
<line x1="418.88" y1="492.91" x2="425.88" y2="492.91" stroke="#231f20" stroke-width="1.80"/>
<text x="409.38" y="487.14" text-anchor="middle">ns</text>
<text x="425.38" y="485.91" text-anchor="middle">ns</text>
<line x1="410.38" y1="523.50" x2="410.38" y2="528.50" stroke="#231f20" stroke-width="1.50"/>
<text x="416.18" y="536.50" text-anchor="end" transform="rotate(-45.00 416.18 536.50)">RBM38</text>
<rect x="437.69" y="492.60" width="8.00" height="30.90" fill="#8e8e96"/>
<line x1="441.69" y1="492.60" x2="441.69" y2="490.75" stroke="#231f20" stroke-width="1.20"/>
<line x1="438.19" y1="490.75" x2="445.19" y2="490.75" stroke="#231f20" stroke-width="1.80"/>
<rect x="449.69" y="372.71" width="8.00" height="150.79" fill="#7aaee0"/>
<line x1="453.69" y1="372.71" x2="453.69" y2="371.47" stroke="#231f20" stroke-width="1.20"/>
<line x1="450.19" y1="371.47" x2="457.19" y2="371.47" stroke="#231f20" stroke-width="1.80"/>
<rect x="461.69" y="414.11" width="8.00" height="109.39" fill="#f3969a"/>
<line x1="465.69" y1="414.11" x2="465.69" y2="410.41" stroke="#231f20" stroke-width="1.20"/>
<line x1="462.19" y1="410.41" x2="469.19" y2="410.41" stroke="#231f20" stroke-width="1.80"/>
<polygon points="453.69 364.07 454.31 365.42 455.78 365.59 454.69 366.60 454.98 368.05 453.69 367.33 452.40 368.05 452.69 366.60 451.60 365.59 453.07 365.42" fill="#231f20"/>
<polygon points="453.69 357.87 454.31 359.22 455.78 359.39 454.69 360.40 454.98 361.85 453.69 361.13 452.40 361.85 452.69 360.40 451.60 359.39 453.07 359.22" fill="#231f20"/>
<polygon points="453.69 351.67 454.31 353.02 455.78 353.19 454.69 354.20 454.98 355.65 453.69 354.93 452.40 355.65 452.69 354.20 451.60 353.19 453.07 353.02" fill="#231f20"/>
<polygon points="465.69 403.01 466.31 404.35 467.78 404.53 466.69 405.53 466.98 406.99 465.69 406.26 464.40 406.99 464.69 405.53 463.60 404.53 465.07 404.35" fill="#231f20"/>
<polygon points="465.69 396.81 466.31 398.15 467.78 398.33 466.69 399.33 466.98 400.79 465.69 400.06 464.40 400.79 464.69 399.33 463.60 398.33 465.07 398.15" fill="#231f20"/>
<polygon points="465.69 390.61 466.31 391.95 467.78 392.13 466.69 393.13 466.98 394.59 465.69 393.86 464.40 394.59 464.69 393.13 463.60 392.13 465.07 391.95" fill="#231f20"/>
<line x1="453.69" y1="523.50" x2="453.69" y2="528.50" stroke="#231f20" stroke-width="1.50"/>
<text x="459.49" y="536.50" text-anchor="end" transform="rotate(-45.00 459.49 536.50)">TJP1</text>
<rect x="481.00" y="492.60" width="8.00" height="30.90" fill="#8e8e96"/>
<line x1="481.50" y1="492.29" x2="488.50" y2="492.29" stroke="#231f20" stroke-width="1.80"/>
<rect x="493.00" y="512.99" width="8.00" height="10.51" fill="#7aaee0"/>
<line x1="497.00" y1="512.99" x2="497.00" y2="511.45" stroke="#231f20" stroke-width="1.20"/>
<line x1="493.50" y1="511.45" x2="500.50" y2="511.45" stroke="#231f20" stroke-width="1.80"/>
<rect x="505.00" y="517.32" width="8.00" height="6.18" fill="#f3969a"/>
<line x1="509.00" y1="517.32" x2="509.00" y2="516.39" stroke="#231f20" stroke-width="1.20"/>
<line x1="505.50" y1="516.39" x2="512.50" y2="516.39" stroke="#231f20" stroke-width="1.80"/>
<polygon points="497.00 504.05 497.62 505.39 499.09 505.57 498.00 506.58 498.29 508.03 497.00 507.31 495.71 508.03 496.00 506.58 494.91 505.57 496.38 505.39" fill="#231f20"/>
<polygon points="497.00 497.85 497.62 499.19 499.09 499.37 498.00 500.38 498.29 501.83 497.00 501.11 495.71 501.83 496.00 500.38 494.91 499.37 496.38 499.19" fill="#231f20"/>
<polygon points="497.00 491.65 497.62 492.99 499.09 493.17 498.00 494.18 498.29 495.63 497.00 494.91 495.71 495.63 496.00 494.18 494.91 493.17 496.38 492.99" fill="#231f20"/>
<polygon points="509.00 508.99 509.62 510.34 511.09 510.51 510.00 511.52 510.29 512.97 509.00 512.25 507.71 512.97 508.00 511.52 506.91 510.51 508.38 510.34" fill="#231f20"/>
<polygon points="509.00 502.79 509.62 504.14 511.09 504.31 510.00 505.32 510.29 506.77 509.00 506.05 507.71 506.77 508.00 505.32 506.91 504.31 508.38 504.14" fill="#231f20"/>
<polygon points="509.00 496.59 509.62 497.94 511.09 498.11 510.00 499.12 510.29 500.57 509.00 499.85 507.71 500.57 508.00 499.12 506.91 498.11 508.38 497.94" fill="#231f20"/>
<line x1="497.00" y1="523.50" x2="497.00" y2="528.50" stroke="#231f20" stroke-width="1.50"/>
<text x="502.80" y="536.50" text-anchor="end" transform="rotate(-45.00 502.80 536.50)">VASH1</text>
<text x="0.80" y="610.00" font-size="15.00" fill="#000" font-weight="bold">f</text>
<text x="45.60" y="621.60">RS4;11</text>
<line x1="42.60" y1="628.90" x2="42.60" y2="723.70" stroke="#231f20" stroke-width="1.60"/>
<line x1="42.60" y1="722.90" x2="135.00" y2="722.90" stroke="#231f20" stroke-width="1.60"/>
<line x1="38.60" y1="722.90" x2="42.60" y2="722.90" stroke="#231f20" stroke-width="1.50"/>
<text x="38.00" y="726.70" text-anchor="end">0</text>
<line x1="38.60" y1="699.60" x2="42.60" y2="699.60" stroke="#231f20" stroke-width="1.50"/>
<text x="38.00" y="703.40" text-anchor="end">25</text>
<line x1="38.60" y1="676.30" x2="42.60" y2="676.30" stroke="#231f20" stroke-width="1.50"/>
<text x="38.00" y="680.10" text-anchor="end">50</text>
<line x1="38.60" y1="653.00" x2="42.60" y2="653.00" stroke="#231f20" stroke-width="1.50"/>
<text x="38.00" y="656.80" text-anchor="end">75</text>
<line x1="38.60" y1="629.70" x2="42.60" y2="629.70" stroke="#231f20" stroke-width="1.50"/>
<text x="38.00" y="633.50" text-anchor="end">100</text>
<rect x="47.10" y="694.10" width="20.70" height="28.80" fill="#7fafdf"/>
<rect x="47.10" y="677.88" width="20.70" height="16.22" fill="#e6ebb8"/>
<rect x="47.10" y="635.11" width="20.70" height="42.78" fill="#f17d80"/>
<line x1="51.30" y1="693.36" x2="63.60" y2="693.36" stroke="#231f20" stroke-width="1.60"/>
<line x1="51.30" y1="677.14" x2="63.60" y2="677.14" stroke="#231f20" stroke-width="1.60"/>
<line x1="51.30" y1="634.36" x2="63.60" y2="634.36" stroke="#231f20" stroke-width="1.60"/>
<line x1="57.45" y1="722.90" x2="57.45" y2="727.90" stroke="#231f20" stroke-width="1.50"/>
<text x="61.95" y="735.40" text-anchor="end" transform="rotate(-45.00 61.95 735.40)">si-NC</text>
<rect x="78.60" y="680.12" width="20.70" height="42.78" fill="#7fafdf"/>
<rect x="78.60" y="665.86" width="20.70" height="14.26" fill="#e6ebb8"/>
<rect x="78.60" y="635.11" width="20.70" height="30.76" fill="#f17d80"/>
<line x1="82.80" y1="679.38" x2="95.10" y2="679.38" stroke="#231f20" stroke-width="1.60"/>
<line x1="82.80" y1="665.12" x2="95.10" y2="665.12" stroke="#231f20" stroke-width="1.60"/>
<line x1="82.80" y1="634.36" x2="95.10" y2="634.36" stroke="#231f20" stroke-width="1.60"/>
<text x="88.95" y="679.79" font-size="9.50" text-anchor="middle">***</text>
<line x1="88.95" y1="722.90" x2="88.95" y2="727.90" stroke="#231f20" stroke-width="1.50"/>
<text x="93.45" y="735.40" text-anchor="end" transform="rotate(-45.00 93.45 735.40)">si-ADAR1-1</text>
<rect x="110.10" y="675.93" width="20.70" height="46.97" fill="#7fafdf"/>
<rect x="110.10" y="660.64" width="20.70" height="15.28" fill="#e6ebb8"/>
<rect x="110.10" y="635.57" width="20.70" height="25.07" fill="#f17d80"/>
<line x1="114.30" y1="675.18" x2="126.60" y2="675.18" stroke="#231f20" stroke-width="1.60"/>
<line x1="114.30" y1="659.90" x2="126.60" y2="659.90" stroke="#231f20" stroke-width="1.60"/>
<line x1="114.30" y1="634.83" x2="126.60" y2="634.83" stroke="#231f20" stroke-width="1.60"/>
<text x="120.45" y="675.08" font-size="9.50" text-anchor="middle">***</text>
<line x1="120.45" y1="722.90" x2="120.45" y2="727.90" stroke="#231f20" stroke-width="1.50"/>
<text x="124.95" y="735.40" text-anchor="end" transform="rotate(-45.00 124.95 735.40)">si-ADAR1-2</text>
<text x="164.30" y="620.80">MOLM13</text>
<line x1="159.70" y1="627.20" x2="159.70" y2="723.30" stroke="#231f20" stroke-width="1.60"/>
<line x1="159.70" y1="722.50" x2="254.20" y2="722.50" stroke="#231f20" stroke-width="1.60"/>
<line x1="155.70" y1="722.50" x2="159.70" y2="722.50" stroke="#231f20" stroke-width="1.50"/>
<text x="155.10" y="726.30" text-anchor="end">0</text>
<line x1="155.70" y1="698.88" x2="159.70" y2="698.88" stroke="#231f20" stroke-width="1.50"/>
<text x="155.10" y="702.67" text-anchor="end">25</text>
<line x1="155.70" y1="675.25" x2="159.70" y2="675.25" stroke="#231f20" stroke-width="1.50"/>
<text x="155.10" y="679.05" text-anchor="end">50</text>
<line x1="155.70" y1="651.62" x2="159.70" y2="651.62" stroke="#231f20" stroke-width="1.50"/>
<text x="155.10" y="655.42" text-anchor="end">75</text>
<line x1="155.70" y1="628.00" x2="159.70" y2="628.00" stroke="#231f20" stroke-width="1.50"/>
<text x="155.10" y="631.80" text-anchor="end">100</text>
<rect x="165.60" y="672.70" width="20.70" height="49.80" fill="#7fafdf"/>
<rect x="165.60" y="654.18" width="20.70" height="18.52" fill="#e6ebb8"/>
<rect x="165.60" y="629.80" width="20.70" height="24.38" fill="#f17d80"/>
<line x1="169.80" y1="671.94" x2="182.10" y2="671.94" stroke="#231f20" stroke-width="1.60"/>
<line x1="169.80" y1="653.42" x2="182.10" y2="653.42" stroke="#231f20" stroke-width="1.60"/>
<line x1="169.80" y1="629.04" x2="182.10" y2="629.04" stroke="#231f20" stroke-width="1.60"/>
<line x1="175.95" y1="722.50" x2="175.95" y2="727.50" stroke="#231f20" stroke-width="1.50"/>
<text x="180.45" y="735.00" text-anchor="end" transform="rotate(-45.00 180.45 735.00)">si-NC</text>
<rect x="197.10" y="657.01" width="20.70" height="65.49" fill="#7fafdf"/>
<rect x="197.10" y="638.87" width="20.70" height="18.14" fill="#e6ebb8"/>
<rect x="197.10" y="628.09" width="20.70" height="10.77" fill="#f17d80"/>
<line x1="201.30" y1="656.26" x2="213.60" y2="656.26" stroke="#231f20" stroke-width="1.60"/>
<line x1="201.30" y1="638.11" x2="213.60" y2="638.11" stroke="#231f20" stroke-width="1.60"/>
<line x1="201.30" y1="627.34" x2="213.60" y2="627.34" stroke="#231f20" stroke-width="1.60"/>
<text x="207.45" y="654.74" font-size="9.50" text-anchor="middle">***</text>
<line x1="207.45" y1="722.50" x2="207.45" y2="727.50" stroke="#231f20" stroke-width="1.50"/>
<text x="211.95" y="735.00" text-anchor="end" transform="rotate(-45.00 211.95 735.00)">si-ADAR1-1</text>
<rect x="228.40" y="655.50" width="20.70" height="67.00" fill="#7fafdf"/>
<rect x="228.40" y="638.21" width="20.70" height="17.29" fill="#e6ebb8"/>
<rect x="228.40" y="628.09" width="20.70" height="10.11" fill="#f17d80"/>
<line x1="232.60" y1="654.74" x2="244.90" y2="654.74" stroke="#231f20" stroke-width="1.60"/>
<line x1="232.60" y1="637.45" x2="244.90" y2="637.45" stroke="#231f20" stroke-width="1.60"/>
<line x1="232.60" y1="627.34" x2="244.90" y2="627.34" stroke="#231f20" stroke-width="1.60"/>
<text x="238.75" y="653.65" font-size="9.50" text-anchor="middle">***</text>
<line x1="238.75" y1="722.50" x2="238.75" y2="727.50" stroke="#231f20" stroke-width="1.50"/>
<text x="243.25" y="735.00" text-anchor="end" transform="rotate(-45.00 243.25 735.00)">si-ADAR1-2</text>
<text x="286.40" y="620.80">NB4</text>
<line x1="281.50" y1="628.10" x2="281.50" y2="722.70" stroke="#231f20" stroke-width="1.60"/>
<line x1="281.50" y1="721.90" x2="375.00" y2="721.90" stroke="#231f20" stroke-width="1.60"/>
<line x1="277.50" y1="721.90" x2="281.50" y2="721.90" stroke="#231f20" stroke-width="1.50"/>
<text x="276.90" y="725.70" text-anchor="end">0</text>
<line x1="277.50" y1="698.65" x2="281.50" y2="698.65" stroke="#231f20" stroke-width="1.50"/>
<text x="276.90" y="702.45" text-anchor="end">25</text>
<line x1="277.50" y1="675.40" x2="281.50" y2="675.40" stroke="#231f20" stroke-width="1.50"/>
<text x="276.90" y="679.20" text-anchor="end">50</text>
<line x1="277.50" y1="652.15" x2="281.50" y2="652.15" stroke="#231f20" stroke-width="1.50"/>
<text x="276.90" y="655.95" text-anchor="end">75</text>
<line x1="277.50" y1="628.90" x2="281.50" y2="628.90" stroke="#231f20" stroke-width="1.50"/>
<text x="276.90" y="632.70" text-anchor="end">100</text>
<rect x="286.40" y="693.35" width="20.70" height="28.55" fill="#7fafdf"/>
<rect x="286.40" y="676.61" width="20.70" height="16.74" fill="#e6ebb8"/>
<rect x="286.40" y="631.22" width="20.70" height="45.38" fill="#f17d80"/>
<line x1="296.75" y1="693.35" x2="296.75" y2="692.42" stroke="#231f20" stroke-width="1.20"/>
<line x1="290.60" y1="692.42" x2="302.90" y2="692.42" stroke="#231f20" stroke-width="1.60"/>
<line x1="296.75" y1="676.61" x2="296.75" y2="674.38" stroke="#231f20" stroke-width="1.20"/>
<line x1="290.60" y1="674.38" x2="302.90" y2="674.38" stroke="#231f20" stroke-width="1.60"/>
<line x1="296.75" y1="631.22" x2="296.75" y2="629.27" stroke="#231f20" stroke-width="1.20"/>
<line x1="290.60" y1="629.27" x2="302.90" y2="629.27" stroke="#231f20" stroke-width="1.60"/>
<line x1="296.75" y1="721.90" x2="296.75" y2="726.90" stroke="#231f20" stroke-width="1.50"/>
<text x="301.25" y="734.40" text-anchor="end" transform="rotate(-45.00 301.25 734.40)">si-NC</text>
<rect x="317.80" y="677.73" width="20.70" height="44.18" fill="#7fafdf"/>
<rect x="317.80" y="665.63" width="20.70" height="12.09" fill="#e6ebb8"/>
<rect x="317.80" y="634.29" width="20.70" height="31.34" fill="#f17d80"/>
<line x1="328.15" y1="677.73" x2="328.15" y2="676.33" stroke="#231f20" stroke-width="1.20"/>
<line x1="322.00" y1="676.33" x2="334.30" y2="676.33" stroke="#231f20" stroke-width="1.60"/>
<line x1="328.15" y1="665.63" x2="328.15" y2="662.10" stroke="#231f20" stroke-width="1.20"/>
<line x1="322.00" y1="662.10" x2="334.30" y2="662.10" stroke="#231f20" stroke-width="1.60"/>
<line x1="328.15" y1="634.29" x2="328.15" y2="633.09" stroke="#231f20" stroke-width="1.20"/>
<line x1="322.00" y1="633.09" x2="334.30" y2="633.09" stroke="#231f20" stroke-width="1.60"/>
<text x="328.15" y="678.48" font-size="9.50" text-anchor="middle">***</text>
<line x1="328.15" y1="721.90" x2="328.15" y2="726.90" stroke="#231f20" stroke-width="1.50"/>
<text x="332.65" y="734.40" text-anchor="end" transform="rotate(-45.00 332.65 734.40)">si-ADAR1-1</text>
<rect x="349.30" y="672.14" width="20.70" height="49.76" fill="#7fafdf"/>
<rect x="349.30" y="655.68" width="20.70" height="16.46" fill="#e6ebb8"/>
<rect x="349.30" y="631.22" width="20.70" height="24.46" fill="#f17d80"/>
<line x1="359.65" y1="672.14" x2="359.65" y2="670.66" stroke="#231f20" stroke-width="1.20"/>
<line x1="353.50" y1="670.66" x2="365.80" y2="670.66" stroke="#231f20" stroke-width="1.60"/>
<line x1="359.65" y1="655.68" x2="359.65" y2="654.57" stroke="#231f20" stroke-width="1.20"/>
<line x1="353.50" y1="654.57" x2="365.80" y2="654.57" stroke="#231f20" stroke-width="1.60"/>
<line x1="359.65" y1="631.22" x2="359.65" y2="630.29" stroke="#231f20" stroke-width="1.20"/>
<line x1="353.50" y1="630.29" x2="365.80" y2="630.29" stroke="#231f20" stroke-width="1.60"/>
<text x="359.65" y="670.71" font-size="9.50" text-anchor="middle">***</text>
<line x1="359.65" y1="721.90" x2="359.65" y2="726.90" stroke="#231f20" stroke-width="1.50"/>
<text x="364.15" y="734.40" text-anchor="end" transform="rotate(-45.00 364.15 734.40)">si-ADAR1-2</text>
<text x="400.80" y="622.30">MV4-11</text>
<line x1="398.80" y1="627.40" x2="398.80" y2="721.70" stroke="#231f20" stroke-width="1.60"/>
<line x1="398.80" y1="720.90" x2="493.30" y2="720.90" stroke="#231f20" stroke-width="1.60"/>
<line x1="394.80" y1="720.90" x2="398.80" y2="720.90" stroke="#231f20" stroke-width="1.50"/>
<text x="394.20" y="724.70" text-anchor="end">0</text>
<line x1="394.80" y1="702.36" x2="398.80" y2="702.36" stroke="#231f20" stroke-width="1.50"/>
<text x="394.20" y="706.16" text-anchor="end">20</text>
<line x1="394.80" y1="683.82" x2="398.80" y2="683.82" stroke="#231f20" stroke-width="1.50"/>
<text x="394.20" y="687.62" text-anchor="end">40</text>
<line x1="394.80" y1="665.28" x2="398.80" y2="665.28" stroke="#231f20" stroke-width="1.50"/>
<text x="394.20" y="669.08" text-anchor="end">60</text>
<line x1="394.80" y1="646.74" x2="398.80" y2="646.74" stroke="#231f20" stroke-width="1.50"/>
<text x="394.20" y="650.54" text-anchor="end">80</text>
<line x1="394.80" y1="628.20" x2="398.80" y2="628.20" stroke="#231f20" stroke-width="1.50"/>
<text x="394.20" y="632.00" text-anchor="end">100</text>
<rect x="404.20" y="680.20" width="20.70" height="40.70" fill="#7fafdf"/>
<rect x="404.20" y="662.96" width="20.70" height="17.24" fill="#e6ebb8"/>
<rect x="404.20" y="630.70" width="20.70" height="32.26" fill="#f17d80"/>
<line x1="408.40" y1="679.46" x2="420.70" y2="679.46" stroke="#231f20" stroke-width="1.60"/>
<line x1="408.40" y1="662.22" x2="420.70" y2="662.22" stroke="#231f20" stroke-width="1.60"/>
<line x1="408.40" y1="629.96" x2="420.70" y2="629.96" stroke="#231f20" stroke-width="1.60"/>
<line x1="414.55" y1="720.90" x2="414.55" y2="725.90" stroke="#231f20" stroke-width="1.50"/>
<text x="419.05" y="733.40" text-anchor="end" transform="rotate(-45.00 419.05 733.40)">si-NC</text>
<rect x="435.70" y="664.63" width="20.70" height="56.27" fill="#7fafdf"/>
<rect x="435.70" y="651.65" width="20.70" height="12.98" fill="#e6ebb8"/>
<rect x="435.70" y="630.33" width="20.70" height="21.32" fill="#f17d80"/>
<line x1="439.90" y1="663.89" x2="452.20" y2="663.89" stroke="#231f20" stroke-width="1.60"/>
<line x1="439.90" y1="650.91" x2="452.20" y2="650.91" stroke="#231f20" stroke-width="1.60"/>
<line x1="439.90" y1="629.59" x2="452.20" y2="629.59" stroke="#231f20" stroke-width="1.60"/>
<text x="446.05" y="664.94" font-size="9.50" text-anchor="middle">***</text>
<line x1="446.05" y1="720.90" x2="446.05" y2="725.90" stroke="#231f20" stroke-width="1.50"/>
<text x="450.55" y="733.40" text-anchor="end" transform="rotate(-45.00 450.55 733.40)">si-ADAR1-1</text>
<rect x="467.20" y="664.63" width="20.70" height="56.27" fill="#7fafdf"/>
<rect x="467.20" y="650.45" width="20.70" height="14.18" fill="#e6ebb8"/>
<rect x="467.20" y="628.85" width="20.70" height="21.60" fill="#f17d80"/>
<line x1="471.40" y1="663.89" x2="483.70" y2="663.89" stroke="#231f20" stroke-width="1.60"/>
<line x1="471.40" y1="649.71" x2="483.70" y2="649.71" stroke="#231f20" stroke-width="1.60"/>
<line x1="471.40" y1="628.11" x2="483.70" y2="628.11" stroke="#231f20" stroke-width="1.60"/>
<text x="477.55" y="664.34" font-size="9.50" text-anchor="middle">***</text>
<line x1="477.55" y1="720.90" x2="477.55" y2="725.90" stroke="#231f20" stroke-width="1.50"/>
<text x="482.05" y="733.40" text-anchor="end" transform="rotate(-45.00 482.05 733.40)">si-ADAR1-2</text>
<text x="17.70" y="666.80" text-anchor="middle" transform="rotate(-90.00 17.70 666.80)">percentage of cell(%)</text>
<rect x="465.40" y="589.90" width="9.60" height="4.90" fill="#7fafdf"/>
<text x="480.50" y="595.40">G0/G1</text>
<rect x="465.40" y="600.50" width="9.60" height="4.90" fill="#e6ebb8"/>
<text x="480.50" y="605.30">S</text>
<rect x="465.40" y="611.10" width="9.60" height="4.90" fill="#f17d80"/>
<text x="480.50" y="615.20">G2/M</text>
<text x="548.60" y="364.40" font-size="15.00" fill="#000" font-weight="bold">g</text>
<text x="597.00" y="370.50">MV4-11</text>
<text x="561.80" y="473.60">MOLM13</text>
<defs><radialGradient id="dish" cx="0.5" cy="0.5" r="0.5"><stop offset="0" stop-color="#f7f9f9"/><stop offset="0.7" stop-color="#f0f4f4"/><stop offset="0.9" stop-color="#dde7e9"/><stop offset="1" stop-color="#bccdd2"/></radialGradient><radialGradient id="dish2" cx="0.5" cy="0.45" r="0.55"><stop offset="0" stop-color="#e9eef0"/><stop offset="0.6" stop-color="#dfe6e8"/><stop offset="0.85" stop-color="#c9d4d8"/><stop offset="1" stop-color="#aebcc2"/></radialGradient></defs>
<circle cx="589.60" cy="411.70" r="28.2" fill="url(#dish)"/>
<circle cx="598.07" cy="423.48" r="0.75" fill="#3f5260" opacity="0.35"/>
<circle cx="582.91" cy="410.17" r="0.45" fill="#3f5260" opacity="0.35"/>
<circle cx="594.95" cy="435.43" r="0.30" fill="#3f5260" opacity="0.75"/>
<circle cx="590.57" cy="428.16" r="0.60" fill="#3f5260" opacity="0.75"/>
<circle cx="583.92" cy="409.22" r="0.40" fill="#3f5260" opacity="0.35"/>
<circle cx="574.17" cy="423.41" r="0.40" fill="#3f5260" opacity="0.35"/>
<circle cx="602.34" cy="425.83" r="0.50" fill="#3f5260" opacity="0.50"/>
<circle cx="572.68" cy="403.62" r="0.60" fill="#3f5260" opacity="0.50"/>
<circle cx="582.22" cy="408.16" r="0.40" fill="#3f5260" opacity="0.60"/>
<circle cx="587.72" cy="403.97" r="0.60" fill="#3f5260" opacity="0.35"/>
<circle cx="569.54" cy="412.15" r="0.60" fill="#3f5260" opacity="0.75"/>
<circle cx="567.64" cy="416.52" r="0.50" fill="#3f5260" opacity="0.60"/>
<circle cx="593.44" cy="398.28" r="0.75" fill="#3f5260" opacity="0.50"/>
<circle cx="587.34" cy="418.64" r="0.50" fill="#3f5260" opacity="0.60"/>
<circle cx="584.46" cy="432.86" r="0.30" fill="#3f5260" opacity="0.35"/>
<circle cx="598.89" cy="427.40" r="0.45" fill="#3f5260" opacity="0.50"/>
<circle cx="567.89" cy="423.34" r="0.75" fill="#3f5260" opacity="0.35"/>
<circle cx="569.61" cy="401.83" r="0.45" fill="#3f5260" opacity="0.60"/>
<circle cx="571.97" cy="399.82" r="0.60" fill="#3f5260" opacity="0.75"/>
<circle cx="595.16" cy="415.41" r="0.45" fill="#3f5260" opacity="0.75"/>
<circle cx="609.14" cy="420.15" r="0.75" fill="#3f5260" opacity="0.60"/>
<circle cx="610.09" cy="410.81" r="0.50" fill="#3f5260" opacity="0.60"/>
<circle cx="605.97" cy="397.63" r="0.45" fill="#3f5260" opacity="0.35"/>
<circle cx="574.39" cy="431.20" r="0.60" fill="#3f5260" opacity="0.35"/>
<circle cx="593.16" cy="429.26" r="0.45" fill="#3f5260" opacity="0.50"/>
<circle cx="572.05" cy="424.81" r="0.50" fill="#3f5260" opacity="0.35"/>
<circle cx="581.12" cy="417.73" r="0.45" fill="#3f5260" opacity="0.50"/>
<circle cx="604.75" cy="394.29" r="0.45" fill="#3f5260" opacity="0.75"/>
<circle cx="579.21" cy="388.60" r="0.50" fill="#3f5260" opacity="0.50"/>
<circle cx="594.03" cy="420.56" r="0.40" fill="#3f5260" opacity="0.50"/>
<circle cx="590.97" cy="409.25" r="0.40" fill="#3f5260" opacity="0.60"/>
<circle cx="597.85" cy="422.43" r="0.60" fill="#3f5260" opacity="0.60"/>
<circle cx="581.28" cy="429.79" r="0.40" fill="#3f5260" opacity="0.35"/>
<circle cx="601.47" cy="399.21" r="0.75" fill="#3f5260" opacity="0.75"/>
<circle cx="576.94" cy="421.63" r="0.50" fill="#3f5260" opacity="0.75"/>
<circle cx="595.40" cy="414.31" r="0.40" fill="#3f5260" opacity="0.75"/>
<circle cx="584.09" cy="420.37" r="0.30" fill="#3f5260" opacity="0.35"/>
<circle cx="589.83" cy="412.02" r="0.30" fill="#3f5260" opacity="0.60"/>
<circle cx="607.66" cy="420.24" r="0.40" fill="#3f5260" opacity="0.75"/>
<circle cx="589.46" cy="421.53" r="0.45" fill="#3f5260" opacity="0.60"/>
<circle cx="602.75" cy="423.34" r="0.50" fill="#3f5260" opacity="0.75"/>
<circle cx="582.90" cy="428.06" r="0.40" fill="#3f5260" opacity="0.35"/>
<circle cx="588.26" cy="389.66" r="0.50" fill="#3f5260" opacity="0.50"/>
<circle cx="594.69" cy="429.30" r="0.60" fill="#3f5260" opacity="0.60"/>
<circle cx="580.19" cy="409.08" r="0.30" fill="#3f5260" opacity="0.60"/>
<circle cx="606.08" cy="392.60" r="0.75" fill="#3f5260" opacity="0.60"/>
<circle cx="604.99" cy="401.69" r="0.45" fill="#3f5260" opacity="0.50"/>
<circle cx="592.98" cy="393.40" r="0.45" fill="#3f5260" opacity="0.50"/>
<circle cx="594.37" cy="392.31" r="0.40" fill="#3f5260" opacity="0.50"/>
<circle cx="588.13" cy="388.68" r="0.40" fill="#3f5260" opacity="0.50"/>
<circle cx="578.31" cy="426.16" r="0.30" fill="#3f5260" opacity="0.35"/>
<circle cx="567.28" cy="415.64" r="0.40" fill="#3f5260" opacity="0.60"/>
<circle cx="605.33" cy="405.12" r="0.45" fill="#3f5260" opacity="0.60"/>
<circle cx="595.40" cy="416.03" r="0.50" fill="#3f5260" opacity="0.50"/>
<circle cx="574.87" cy="413.31" r="0.60" fill="#3f5260" opacity="0.35"/>
<circle cx="579.49" cy="397.22" r="0.75" fill="#3f5260" opacity="0.35"/>
<circle cx="606.59" cy="427.64" r="0.50" fill="#3f5260" opacity="0.50"/>
<circle cx="597.26" cy="427.58" r="0.75" fill="#3f5260" opacity="0.60"/>
<circle cx="596.68" cy="409.21" r="0.75" fill="#3f5260" opacity="0.75"/>
<circle cx="588.87" cy="394.36" r="0.30" fill="#3f5260" opacity="0.50"/>
<circle cx="596.94" cy="419.23" r="0.40" fill="#3f5260" opacity="0.75"/>
<circle cx="603.50" cy="429.90" r="0.60" fill="#3f5260" opacity="0.75"/>
<circle cx="577.41" cy="428.39" r="0.60" fill="#3f5260" opacity="0.50"/>
<circle cx="590.74" cy="408.15" r="0.75" fill="#3f5260" opacity="0.35"/>
<circle cx="606.52" cy="404.20" r="0.50" fill="#3f5260" opacity="0.50"/>
<circle cx="595.22" cy="434.19" r="0.45" fill="#3f5260" opacity="0.50"/>
<circle cx="590.42" cy="425.48" r="0.60" fill="#3f5260" opacity="0.60"/>
<circle cx="578.26" cy="418.03" r="0.40" fill="#3f5260" opacity="0.35"/>
<circle cx="574.84" cy="431.04" r="0.50" fill="#3f5260" opacity="0.75"/>
<circle cx="606.32" cy="395.63" r="0.40" fill="#3f5260" opacity="0.50"/>
<circle cx="607.92" cy="413.86" r="0.50" fill="#3f5260" opacity="0.50"/>
<circle cx="592.84" cy="392.07" r="0.40" fill="#3f5260" opacity="0.50"/>
<circle cx="582.57" cy="405.17" r="0.30" fill="#3f5260" opacity="0.35"/>
<circle cx="575.14" cy="410.03" r="0.60" fill="#3f5260" opacity="0.75"/>
<circle cx="607.35" cy="425.66" r="0.60" fill="#3f5260" opacity="0.35"/>
<circle cx="587.46" cy="424.23" r="0.30" fill="#3f5260" opacity="0.75"/>
<circle cx="590.80" cy="392.63" r="0.30" fill="#3f5260" opacity="0.75"/>
<circle cx="603.95" cy="409.27" r="0.60" fill="#3f5260" opacity="0.50"/>
<circle cx="569.32" cy="417.96" r="0.60" fill="#3f5260" opacity="0.75"/>
<circle cx="589.87" cy="429.87" r="0.60" fill="#3f5260" opacity="0.60"/>
<circle cx="608.74" cy="396.41" r="0.40" fill="#3f5260" opacity="0.75"/>
<circle cx="596.42" cy="418.23" r="0.50" fill="#3f5260" opacity="0.60"/>
<circle cx="590.00" cy="418.56" r="0.30" fill="#3f5260" opacity="0.50"/>
<circle cx="594.01" cy="391.31" r="0.40" fill="#3f5260" opacity="0.60"/>
<circle cx="596.74" cy="405.22" r="0.50" fill="#3f5260" opacity="0.50"/>
<circle cx="607.89" cy="423.98" r="0.50" fill="#3f5260" opacity="0.50"/>
<circle cx="602.16" cy="389.66" r="0.40" fill="#3f5260" opacity="0.75"/>
<circle cx="568.68" cy="426.15" r="0.50" fill="#3f5260" opacity="0.50"/>
<circle cx="602.34" cy="420.04" r="0.45" fill="#3f5260" opacity="0.35"/>
<circle cx="575.27" cy="415.51" r="0.75" fill="#3f5260" opacity="0.35"/>
<circle cx="573.89" cy="409.97" r="0.45" fill="#3f5260" opacity="0.35"/>
<circle cx="597.07" cy="407.50" r="0.40" fill="#3f5260" opacity="0.35"/>
<circle cx="588.59" cy="419.02" r="0.40" fill="#3f5260" opacity="0.60"/>
<circle cx="599.01" cy="391.63" r="0.75" fill="#3f5260" opacity="0.60"/>
<circle cx="573.78" cy="408.00" r="0.60" fill="#3f5260" opacity="0.75"/>
<circle cx="607.66" cy="423.07" r="0.30" fill="#3f5260" opacity="0.50"/>
<circle cx="604.54" cy="419.01" r="0.30" fill="#3f5260" opacity="0.35"/>
<circle cx="609.34" cy="423.17" r="0.40" fill="#3f5260" opacity="0.35"/>
<circle cx="599.06" cy="420.78" r="0.30" fill="#3f5260" opacity="0.60"/>
<circle cx="567.49" cy="424.26" r="0.45" fill="#3f5260" opacity="0.50"/>
<circle cx="588.27" cy="406.57" r="0.30" fill="#3f5260" opacity="0.50"/>
<circle cx="595.07" cy="423.55" r="0.45" fill="#3f5260" opacity="0.60"/>
<circle cx="594.69" cy="429.57" r="0.50" fill="#3f5260" opacity="0.50"/>
<circle cx="593.99" cy="399.18" r="0.45" fill="#3f5260" opacity="0.35"/>
<circle cx="589.26" cy="408.56" r="0.60" fill="#3f5260" opacity="0.50"/>
<circle cx="590.10" cy="429.98" r="0.50" fill="#3f5260" opacity="0.35"/>
<circle cx="577.45" cy="394.95" r="0.75" fill="#3f5260" opacity="0.75"/>
<circle cx="604.02" cy="399.57" r="0.60" fill="#3f5260" opacity="0.60"/>
<circle cx="610.62" cy="409.37" r="0.45" fill="#3f5260" opacity="0.50"/>
<circle cx="583.35" cy="389.29" r="0.75" fill="#3f5260" opacity="0.50"/>
<circle cx="580.27" cy="424.97" r="0.30" fill="#3f5260" opacity="0.50"/>
<circle cx="587.45" cy="409.54" r="0.45" fill="#3f5260" opacity="0.75"/>
<circle cx="598.49" cy="416.92" r="0.50" fill="#3f5260" opacity="0.60"/>
<circle cx="582.64" cy="393.23" r="0.30" fill="#3f5260" opacity="0.75"/>
<circle cx="588.29" cy="422.60" r="0.30" fill="#3f5260" opacity="0.60"/>
<circle cx="582.28" cy="425.23" r="0.60" fill="#3f5260" opacity="0.60"/>
<circle cx="601.91" cy="409.00" r="0.45" fill="#3f5260" opacity="0.50"/>
<circle cx="604.83" cy="411.80" r="0.50" fill="#3f5260" opacity="0.35"/>
<circle cx="572.03" cy="411.40" r="0.40" fill="#3f5260" opacity="0.50"/>
<circle cx="607.71" cy="412.26" r="0.45" fill="#3f5260" opacity="0.35"/>
<circle cx="581.33" cy="406.68" r="0.50" fill="#3f5260" opacity="0.35"/>
<circle cx="580.02" cy="401.55" r="0.30" fill="#3f5260" opacity="0.50"/>
<circle cx="585.21" cy="391.49" r="0.60" fill="#3f5260" opacity="0.75"/>
<circle cx="585.51" cy="389.78" r="0.50" fill="#3f5260" opacity="0.50"/>
<circle cx="579.61" cy="402.48" r="0.40" fill="#3f5260" opacity="0.35"/>
<circle cx="584.55" cy="389.10" r="0.60" fill="#3f5260" opacity="0.75"/>
<circle cx="597.92" cy="391.50" r="0.40" fill="#3f5260" opacity="0.35"/>
<circle cx="569.58" cy="400.02" r="0.75" fill="#3f5260" opacity="0.50"/>
<circle cx="596.78" cy="413.63" r="0.75" fill="#3f5260" opacity="0.60"/>
<circle cx="571.76" cy="429.18" r="0.50" fill="#3f5260" opacity="0.35"/>
<circle cx="578.48" cy="400.41" r="1.80" fill="#8a979d" opacity="0.45"/>
<circle cx="588.74" cy="421.55" r="1.50" fill="#8a979d" opacity="0.45"/>
<circle cx="589.40" cy="393.84" r="1.80" fill="#8a979d" opacity="0.45"/>
<circle cx="605.48" cy="422.05" r="1.80" fill="#8a979d" opacity="0.45"/>
<path d="M565.10 423.20 A27 27 0 0 0 583.60 438.00" stroke="#2c3438" stroke-width="2.2" fill="none" opacity="0.55"/>
<path d="M597.60 385.70 A27 27 0 0 1 611.60 395.70" stroke="#2c3438" stroke-width="1.6" fill="none" opacity="0.4"/>
<circle cx="589.60" cy="411.70" r="28.9" fill="none" stroke="#1e1e1e" stroke-width="1.9"/>
<circle cx="655.00" cy="411.70" r="28.2" fill="url(#dish2)"/>
<circle cx="654.46" cy="405.17" r="0.45" fill="#3f5260" opacity="0.35"/>
<circle cx="657.24" cy="435.05" r="0.40" fill="#3f5260" opacity="0.50"/>
<circle cx="676.68" cy="408.37" r="0.50" fill="#3f5260" opacity="0.75"/>
<circle cx="660.97" cy="407.93" r="0.45" fill="#3f5260" opacity="0.35"/>
<circle cx="642.50" cy="396.05" r="0.30" fill="#3f5260" opacity="0.50"/>
<circle cx="646.48" cy="399.74" r="0.75" fill="#3f5260" opacity="0.60"/>
<circle cx="668.44" cy="426.64" r="0.50" fill="#3f5260" opacity="0.35"/>
<circle cx="672.51" cy="408.64" r="0.30" fill="#3f5260" opacity="0.50"/>
<circle cx="649.68" cy="431.97" r="0.60" fill="#3f5260" opacity="0.60"/>
<circle cx="638.01" cy="415.35" r="0.30" fill="#3f5260" opacity="0.50"/>
<circle cx="667.21" cy="419.01" r="0.50" fill="#3f5260" opacity="0.35"/>
<circle cx="667.17" cy="418.04" r="0.60" fill="#3f5260" opacity="0.75"/>
<circle cx="635.74" cy="428.29" r="0.40" fill="#3f5260" opacity="0.35"/>
<circle cx="667.23" cy="426.82" r="0.60" fill="#3f5260" opacity="0.60"/>
<circle cx="671.74" cy="430.12" r="0.75" fill="#3f5260" opacity="0.60"/>
<circle cx="648.06" cy="388.71" r="0.40" fill="#3f5260" opacity="0.75"/>
<circle cx="630.93" cy="413.80" r="0.30" fill="#3f5260" opacity="0.50"/>
<circle cx="653.47" cy="411.78" r="0.50" fill="#3f5260" opacity="0.75"/>
<circle cx="663.88" cy="422.54" r="0.45" fill="#3f5260" opacity="0.75"/>
<circle cx="662.70" cy="399.61" r="0.30" fill="#3f5260" opacity="0.60"/>
<circle cx="666.73" cy="392.98" r="0.30" fill="#3f5260" opacity="0.50"/>
<circle cx="672.54" cy="399.21" r="0.45" fill="#3f5260" opacity="0.60"/>
<circle cx="642.83" cy="421.40" r="0.60" fill="#3f5260" opacity="0.35"/>
<circle cx="641.22" cy="418.39" r="0.45" fill="#3f5260" opacity="0.35"/>
<circle cx="667.80" cy="416.00" r="0.75" fill="#3f5260" opacity="0.60"/>
<circle cx="667.06" cy="428.06" r="0.45" fill="#3f5260" opacity="0.75"/>
<circle cx="661.73" cy="428.64" r="0.45" fill="#3f5260" opacity="0.75"/>
<circle cx="664.10" cy="389.51" r="0.75" fill="#3f5260" opacity="0.75"/>
<circle cx="677.70" cy="402.82" r="0.60" fill="#3f5260" opacity="0.50"/>
<circle cx="675.59" cy="418.32" r="0.75" fill="#3f5260" opacity="0.75"/>
<circle cx="655.28" cy="394.58" r="0.75" fill="#3f5260" opacity="0.60"/>
<circle cx="670.11" cy="402.36" r="0.60" fill="#3f5260" opacity="0.50"/>
<circle cx="645.93" cy="417.07" r="0.45" fill="#3f5260" opacity="0.60"/>
<circle cx="654.09" cy="398.84" r="0.75" fill="#3f5260" opacity="0.60"/>
<circle cx="656.16" cy="427.91" r="0.50" fill="#3f5260" opacity="0.75"/>
<circle cx="649.51" cy="404.79" r="0.30" fill="#3f5260" opacity="0.50"/>
<circle cx="661.83" cy="395.00" r="0.60" fill="#3f5260" opacity="0.50"/>
<circle cx="646.47" cy="426.59" r="0.50" fill="#3f5260" opacity="0.75"/>
<circle cx="658.37" cy="420.61" r="0.30" fill="#3f5260" opacity="0.50"/>
<circle cx="667.54" cy="419.78" r="0.40" fill="#3f5260" opacity="0.60"/>
<circle cx="643.26" cy="406.21" r="0.30" fill="#3f5260" opacity="0.75"/>
<circle cx="654.59" cy="395.93" r="0.40" fill="#3f5260" opacity="0.75"/>
<circle cx="655.17" cy="398.45" r="0.50" fill="#3f5260" opacity="0.60"/>
<circle cx="642.67" cy="426.58" r="0.75" fill="#3f5260" opacity="0.50"/>
<circle cx="661.18" cy="407.01" r="0.50" fill="#3f5260" opacity="0.75"/>
<circle cx="636.36" cy="420.21" r="0.45" fill="#3f5260" opacity="0.35"/>
<circle cx="646.89" cy="415.82" r="0.50" fill="#3f5260" opacity="0.75"/>
<circle cx="654.74" cy="411.91" r="0.60" fill="#3f5260" opacity="0.75"/>
<circle cx="655.24" cy="436.84" r="0.30" fill="#3f5260" opacity="0.50"/>
<circle cx="645.08" cy="410.30" r="0.75" fill="#3f5260" opacity="0.35"/>
<circle cx="650.63" cy="387.35" r="0.75" fill="#3f5260" opacity="0.75"/>
<circle cx="656.25" cy="404.37" r="0.30" fill="#3f5260" opacity="0.50"/>
<circle cx="665.77" cy="405.77" r="0.75" fill="#3f5260" opacity="0.60"/>
<circle cx="637.47" cy="393.85" r="0.60" fill="#3f5260" opacity="0.75"/>
<circle cx="671.24" cy="425.50" r="0.30" fill="#3f5260" opacity="0.60"/>
<circle cx="642.44" cy="404.49" r="1.50" fill="#8a979d" opacity="0.45"/>
<circle cx="657.57" cy="401.81" r="1.20" fill="#8a979d" opacity="0.45"/>
<circle cx="654.35" cy="413.64" r="1.50" fill="#8a979d" opacity="0.45"/>
<path d="M630.50 423.20 A27 27 0 0 0 649.00 438.00" stroke="#2c3438" stroke-width="2.2" fill="none" opacity="0.55"/>
<path d="M663.00 385.70 A27 27 0 0 1 677.00 395.70" stroke="#2c3438" stroke-width="1.6" fill="none" opacity="0.4"/>
<circle cx="655.00" cy="411.70" r="28.9" fill="none" stroke="#1e1e1e" stroke-width="1.9"/>
<circle cx="721.20" cy="411.70" r="28.2" fill="url(#dish)"/>
<circle cx="715.75" cy="424.01" r="0.40" fill="#3f5260" opacity="0.75"/>
<circle cx="703.50" cy="406.32" r="0.30" fill="#3f5260" opacity="0.75"/>
<circle cx="713.65" cy="431.73" r="0.30" fill="#3f5260" opacity="0.50"/>
<circle cx="712.97" cy="395.69" r="0.50" fill="#3f5260" opacity="0.35"/>
<circle cx="714.78" cy="400.47" r="0.45" fill="#3f5260" opacity="0.50"/>
<circle cx="715.22" cy="394.82" r="0.75" fill="#3f5260" opacity="0.75"/>
<circle cx="708.99" cy="421.00" r="0.30" fill="#3f5260" opacity="0.60"/>
<circle cx="699.29" cy="411.03" r="0.40" fill="#3f5260" opacity="0.75"/>
<circle cx="711.71" cy="434.95" r="0.40" fill="#3f5260" opacity="0.50"/>
<circle cx="719.56" cy="429.01" r="0.45" fill="#3f5260" opacity="0.35"/>
<circle cx="696.33" cy="412.36" r="0.40" fill="#3f5260" opacity="0.50"/>
<circle cx="736.22" cy="402.22" r="0.30" fill="#3f5260" opacity="0.50"/>
<circle cx="744.27" cy="419.90" r="0.30" fill="#3f5260" opacity="0.50"/>
<circle cx="717.10" cy="395.79" r="0.40" fill="#3f5260" opacity="0.75"/>
<circle cx="717.16" cy="395.09" r="0.45" fill="#3f5260" opacity="0.35"/>
<circle cx="744.35" cy="401.08" r="0.45" fill="#3f5260" opacity="0.50"/>
<circle cx="731.30" cy="407.39" r="0.75" fill="#3f5260" opacity="0.75"/>
<circle cx="718.87" cy="407.79" r="0.50" fill="#3f5260" opacity="0.60"/>
<circle cx="697.53" cy="420.66" r="0.30" fill="#3f5260" opacity="0.35"/>
<circle cx="727.43" cy="415.17" r="0.50" fill="#3f5260" opacity="0.35"/>
<circle cx="722.25" cy="392.63" r="0.50" fill="#3f5260" opacity="0.60"/>
<circle cx="713.14" cy="432.55" r="0.50" fill="#3f5260" opacity="0.35"/>
<circle cx="716.82" cy="412.44" r="1.50" fill="#8a979d" opacity="0.45"/>
<circle cx="707.31" cy="416.57" r="1.50" fill="#8a979d" opacity="0.45"/>
<path d="M696.70 423.20 A27 27 0 0 0 715.20 438.00" stroke="#2c3438" stroke-width="2.2" fill="none" opacity="0.55"/>
<path d="M729.20 385.70 A27 27 0 0 1 743.20 395.70" stroke="#2c3438" stroke-width="1.6" fill="none" opacity="0.4"/>
<circle cx="721.20" cy="411.70" r="28.9" fill="none" stroke="#1e1e1e" stroke-width="1.9"/>
<circle cx="589.60" cy="507.00" r="28.2" fill="url(#dish)"/>
<circle cx="601.88" cy="497.72" r="0.30" fill="#3f5260" opacity="0.75"/>
<circle cx="580.64" cy="498.00" r="0.50" fill="#3f5260" opacity="0.35"/>
<circle cx="574.37" cy="510.50" r="0.30" fill="#3f5260" opacity="0.60"/>
<circle cx="599.99" cy="511.33" r="0.60" fill="#3f5260" opacity="0.60"/>
<circle cx="581.78" cy="520.23" r="0.60" fill="#3f5260" opacity="0.35"/>
<circle cx="586.88" cy="494.23" r="0.45" fill="#3f5260" opacity="0.60"/>
<circle cx="587.13" cy="493.32" r="0.60" fill="#3f5260" opacity="0.35"/>
<circle cx="590.00" cy="510.95" r="0.50" fill="#3f5260" opacity="0.75"/>
<circle cx="570.76" cy="523.29" r="0.45" fill="#3f5260" opacity="0.75"/>
<circle cx="605.07" cy="524.04" r="0.50" fill="#3f5260" opacity="0.50"/>
<circle cx="591.76" cy="506.00" r="0.45" fill="#3f5260" opacity="0.50"/>
<circle cx="580.27" cy="524.54" r="0.45" fill="#3f5260" opacity="0.75"/>
<circle cx="592.68" cy="491.97" r="0.30" fill="#3f5260" opacity="0.50"/>
<circle cx="598.16" cy="520.47" r="0.50" fill="#3f5260" opacity="0.35"/>
<circle cx="569.18" cy="509.36" r="0.60" fill="#3f5260" opacity="0.60"/>
<circle cx="580.45" cy="511.55" r="0.30" fill="#3f5260" opacity="0.35"/>
<circle cx="600.94" cy="513.62" r="0.30" fill="#3f5260" opacity="0.75"/>
<circle cx="585.10" cy="489.57" r="0.50" fill="#3f5260" opacity="0.50"/>
<circle cx="578.91" cy="513.16" r="0.60" fill="#3f5260" opacity="0.50"/>
<circle cx="602.22" cy="488.91" r="0.75" fill="#3f5260" opacity="0.35"/>
<circle cx="583.47" cy="528.67" r="0.45" fill="#3f5260" opacity="0.60"/>
<circle cx="588.43" cy="491.47" r="0.40" fill="#3f5260" opacity="0.75"/>
<circle cx="589.97" cy="519.68" r="0.40" fill="#3f5260" opacity="0.60"/>
<circle cx="568.46" cy="495.68" r="0.45" fill="#3f5260" opacity="0.35"/>
<circle cx="605.63" cy="506.24" r="0.60" fill="#3f5260" opacity="0.50"/>
<circle cx="606.19" cy="519.14" r="0.50" fill="#3f5260" opacity="0.35"/>
<circle cx="581.55" cy="508.29" r="0.40" fill="#3f5260" opacity="0.75"/>
<circle cx="613.20" cy="513.12" r="0.45" fill="#3f5260" opacity="0.50"/>
<circle cx="592.86" cy="515.18" r="0.60" fill="#3f5260" opacity="0.50"/>
<circle cx="572.52" cy="524.69" r="0.40" fill="#3f5260" opacity="0.75"/>
<circle cx="592.69" cy="487.44" r="0.75" fill="#3f5260" opacity="0.35"/>
<circle cx="582.77" cy="502.29" r="0.60" fill="#3f5260" opacity="0.60"/>
<circle cx="581.53" cy="515.74" r="0.40" fill="#3f5260" opacity="0.35"/>
<circle cx="589.25" cy="518.51" r="0.60" fill="#3f5260" opacity="0.50"/>
<circle cx="599.24" cy="486.10" r="0.50" fill="#3f5260" opacity="0.60"/>
<circle cx="585.42" cy="517.15" r="0.40" fill="#3f5260" opacity="0.35"/>
<circle cx="567.89" cy="500.24" r="0.30" fill="#3f5260" opacity="0.75"/>
<circle cx="583.18" cy="511.97" r="0.60" fill="#3f5260" opacity="0.50"/>
<circle cx="606.73" cy="518.05" r="0.40" fill="#3f5260" opacity="0.75"/>
<circle cx="571.66" cy="518.42" r="0.45" fill="#3f5260" opacity="0.60"/>
<circle cx="605.23" cy="512.23" r="0.75" fill="#3f5260" opacity="0.60"/>
<circle cx="605.90" cy="508.87" r="0.45" fill="#3f5260" opacity="0.50"/>
<circle cx="576.42" cy="515.96" r="0.30" fill="#3f5260" opacity="0.75"/>
<circle cx="568.11" cy="518.16" r="0.30" fill="#3f5260" opacity="0.75"/>
<circle cx="576.81" cy="521.56" r="0.40" fill="#3f5260" opacity="0.50"/>
<circle cx="586.66" cy="506.01" r="0.75" fill="#3f5260" opacity="0.75"/>
<circle cx="584.13" cy="501.72" r="0.45" fill="#3f5260" opacity="0.50"/>
<circle cx="587.58" cy="516.53" r="0.60" fill="#3f5260" opacity="0.50"/>
<circle cx="608.62" cy="522.49" r="0.50" fill="#3f5260" opacity="0.50"/>
<circle cx="596.90" cy="495.05" r="0.30" fill="#3f5260" opacity="0.75"/>
<circle cx="578.45" cy="498.05" r="0.75" fill="#3f5260" opacity="0.75"/>
<circle cx="587.84" cy="499.72" r="0.75" fill="#3f5260" opacity="0.50"/>
<circle cx="602.26" cy="491.00" r="0.60" fill="#3f5260" opacity="0.75"/>
<circle cx="596.24" cy="525.86" r="0.50" fill="#3f5260" opacity="0.50"/>
<circle cx="608.12" cy="511.97" r="0.60" fill="#3f5260" opacity="0.50"/>
<circle cx="600.90" cy="518.03" r="0.40" fill="#3f5260" opacity="0.50"/>
<circle cx="584.82" cy="505.03" r="0.75" fill="#3f5260" opacity="0.35"/>
<circle cx="580.23" cy="525.62" r="0.50" fill="#3f5260" opacity="0.75"/>
<circle cx="576.40" cy="493.46" r="0.45" fill="#3f5260" opacity="0.75"/>
<circle cx="589.67" cy="521.16" r="0.50" fill="#3f5260" opacity="0.60"/>
<circle cx="573.82" cy="513.44" r="0.30" fill="#3f5260" opacity="0.35"/>
<circle cx="569.58" cy="508.32" r="0.40" fill="#3f5260" opacity="0.75"/>
<circle cx="593.77" cy="485.11" r="0.50" fill="#3f5260" opacity="0.50"/>
<circle cx="571.00" cy="520.46" r="0.30" fill="#3f5260" opacity="0.50"/>
<circle cx="579.48" cy="518.43" r="0.50" fill="#3f5260" opacity="0.35"/>
<circle cx="593.11" cy="510.75" r="0.75" fill="#3f5260" opacity="0.60"/>
<circle cx="567.17" cy="505.38" r="0.30" fill="#3f5260" opacity="0.75"/>
<circle cx="594.00" cy="486.87" r="0.30" fill="#3f5260" opacity="0.35"/>
<circle cx="586.74" cy="481.71" r="0.30" fill="#3f5260" opacity="0.50"/>
<circle cx="596.57" cy="500.91" r="0.45" fill="#3f5260" opacity="0.50"/>
<circle cx="585.78" cy="486.23" r="0.40" fill="#3f5260" opacity="0.35"/>
<circle cx="571.71" cy="492.12" r="0.45" fill="#3f5260" opacity="0.50"/>
<circle cx="578.63" cy="497.51" r="0.50" fill="#3f5260" opacity="0.50"/>
<circle cx="602.13" cy="504.14" r="0.50" fill="#3f5260" opacity="0.50"/>
<circle cx="574.95" cy="493.95" r="0.40" fill="#3f5260" opacity="0.60"/>
<circle cx="594.51" cy="521.76" r="0.50" fill="#3f5260" opacity="0.50"/>
<circle cx="586.02" cy="527.03" r="0.45" fill="#3f5260" opacity="0.75"/>
<circle cx="591.88" cy="496.78" r="0.30" fill="#3f5260" opacity="0.35"/>
<circle cx="576.66" cy="522.69" r="0.50" fill="#3f5260" opacity="0.35"/>
<circle cx="577.12" cy="504.15" r="0.50" fill="#3f5260" opacity="0.60"/>
<circle cx="602.70" cy="506.21" r="0.60" fill="#3f5260" opacity="0.50"/>
<circle cx="591.00" cy="491.76" r="0.50" fill="#3f5260" opacity="0.50"/>
<circle cx="589.17" cy="496.29" r="0.30" fill="#3f5260" opacity="0.60"/>
<circle cx="589.07" cy="530.08" r="0.75" fill="#3f5260" opacity="0.60"/>
<circle cx="589.20" cy="485.17" r="0.40" fill="#3f5260" opacity="0.50"/>
<circle cx="579.91" cy="497.24" r="0.50" fill="#3f5260" opacity="0.60"/>
<circle cx="605.89" cy="524.80" r="0.40" fill="#3f5260" opacity="0.35"/>
<circle cx="593.41" cy="507.06" r="0.45" fill="#3f5260" opacity="0.60"/>
<circle cx="584.41" cy="513.50" r="0.40" fill="#3f5260" opacity="0.75"/>
<circle cx="573.09" cy="496.66" r="0.40" fill="#3f5260" opacity="0.60"/>
<circle cx="569.71" cy="510.16" r="0.40" fill="#3f5260" opacity="0.35"/>
<circle cx="590.60" cy="531.66" r="0.40" fill="#3f5260" opacity="0.75"/>
<circle cx="584.50" cy="500.98" r="0.75" fill="#3f5260" opacity="0.60"/>
<circle cx="588.16" cy="523.10" r="0.30" fill="#3f5260" opacity="0.35"/>
<circle cx="570.67" cy="499.19" r="0.45" fill="#3f5260" opacity="0.75"/>
<circle cx="569.94" cy="504.82" r="0.50" fill="#3f5260" opacity="0.50"/>
<circle cx="599.96" cy="507.03" r="0.30" fill="#3f5260" opacity="0.35"/>
<circle cx="590.86" cy="523.20" r="0.30" fill="#3f5260" opacity="0.35"/>
<circle cx="586.91" cy="506.11" r="0.40" fill="#3f5260" opacity="0.50"/>
<circle cx="573.32" cy="505.13" r="0.75" fill="#3f5260" opacity="0.75"/>
<circle cx="600.09" cy="527.47" r="0.45" fill="#3f5260" opacity="0.35"/>
<circle cx="602.93" cy="511.19" r="0.75" fill="#3f5260" opacity="0.75"/>
<circle cx="611.15" cy="507.86" r="0.50" fill="#3f5260" opacity="0.75"/>
<circle cx="585.55" cy="501.00" r="0.40" fill="#3f5260" opacity="0.50"/>
<circle cx="587.78" cy="532.39" r="0.75" fill="#3f5260" opacity="0.35"/>
<circle cx="596.54" cy="501.35" r="0.75" fill="#3f5260" opacity="0.60"/>
<circle cx="587.44" cy="528.40" r="0.60" fill="#3f5260" opacity="0.75"/>
<circle cx="607.93" cy="496.51" r="0.45" fill="#3f5260" opacity="0.60"/>
<circle cx="609.54" cy="502.56" r="0.40" fill="#3f5260" opacity="0.35"/>
<circle cx="613.41" cy="509.29" r="0.45" fill="#3f5260" opacity="0.50"/>
<circle cx="596.44" cy="529.37" r="0.40" fill="#3f5260" opacity="0.60"/>
<circle cx="581.05" cy="514.19" r="0.60" fill="#3f5260" opacity="0.50"/>
<circle cx="598.98" cy="494.40" r="0.75" fill="#3f5260" opacity="0.75"/>
<circle cx="572.40" cy="503.65" r="0.30" fill="#3f5260" opacity="0.35"/>
<circle cx="586.92" cy="490.35" r="0.60" fill="#3f5260" opacity="0.60"/>
<circle cx="572.01" cy="521.27" r="0.60" fill="#3f5260" opacity="0.35"/>
<circle cx="598.67" cy="523.89" r="0.30" fill="#3f5260" opacity="0.35"/>
<circle cx="583.45" cy="501.09" r="0.40" fill="#3f5260" opacity="0.60"/>
<circle cx="581.92" cy="482.99" r="0.30" fill="#3f5260" opacity="0.35"/>
<circle cx="583.72" cy="499.56" r="0.30" fill="#3f5260" opacity="0.35"/>
<circle cx="609.65" cy="515.79" r="0.60" fill="#3f5260" opacity="0.60"/>
<circle cx="600.52" cy="503.79" r="0.60" fill="#3f5260" opacity="0.35"/>
<circle cx="590.46" cy="483.10" r="0.75" fill="#3f5260" opacity="0.75"/>
<circle cx="591.89" cy="515.02" r="0.30" fill="#3f5260" opacity="0.35"/>
<circle cx="592.33" cy="503.13" r="0.75" fill="#3f5260" opacity="0.35"/>
<circle cx="573.91" cy="489.96" r="0.45" fill="#3f5260" opacity="0.75"/>
<circle cx="596.18" cy="511.65" r="0.75" fill="#3f5260" opacity="0.50"/>
<circle cx="582.44" cy="518.84" r="0.45" fill="#3f5260" opacity="0.35"/>
<circle cx="603.27" cy="500.57" r="0.30" fill="#3f5260" opacity="0.60"/>
<circle cx="592.53" cy="482.85" r="0.60" fill="#3f5260" opacity="0.75"/>
<circle cx="572.27" cy="491.08" r="0.30" fill="#3f5260" opacity="0.75"/>
<circle cx="585.12" cy="506.47" r="0.30" fill="#3f5260" opacity="0.60"/>
<circle cx="606.27" cy="512.20" r="0.60" fill="#3f5260" opacity="0.50"/>
<circle cx="599.72" cy="487.97" r="0.60" fill="#3f5260" opacity="0.60"/>
<circle cx="600.13" cy="507.09" r="0.40" fill="#3f5260" opacity="0.60"/>
<circle cx="611.65" cy="503.91" r="0.30" fill="#3f5260" opacity="0.60"/>
<circle cx="571.76" cy="507.96" r="0.40" fill="#3f5260" opacity="0.75"/>
<circle cx="608.52" cy="501.78" r="0.60" fill="#3f5260" opacity="0.60"/>
<circle cx="600.10" cy="523.30" r="0.40" fill="#3f5260" opacity="0.50"/>
<circle cx="603.48" cy="518.47" r="0.75" fill="#3f5260" opacity="0.35"/>
<circle cx="603.58" cy="506.22" r="1.80" fill="#8a979d" opacity="0.45"/>
<circle cx="577.29" cy="494.23" r="1.50" fill="#8a979d" opacity="0.45"/>
<circle cx="595.16" cy="504.32" r="1.80" fill="#8a979d" opacity="0.45"/>
<circle cx="594.09" cy="503.21" r="1.20" fill="#8a979d" opacity="0.45"/>
<path d="M565.10 518.50 A27 27 0 0 0 583.60 533.30" stroke="#2c3438" stroke-width="2.2" fill="none" opacity="0.55"/>
<path d="M597.60 481.00 A27 27 0 0 1 611.60 491.00" stroke="#2c3438" stroke-width="1.6" fill="none" opacity="0.4"/>
<circle cx="589.60" cy="507.00" r="28.9" fill="none" stroke="#1e1e1e" stroke-width="1.9"/>
<circle cx="655.00" cy="507.00" r="28.2" fill="url(#dish)"/>
<circle cx="649.90" cy="521.69" r="0.50" fill="#3f5260" opacity="0.50"/>
<circle cx="666.71" cy="496.54" r="0.40" fill="#3f5260" opacity="0.75"/>
<circle cx="647.46" cy="501.94" r="0.75" fill="#3f5260" opacity="0.35"/>
<circle cx="648.03" cy="520.34" r="0.40" fill="#3f5260" opacity="0.75"/>
<circle cx="653.95" cy="486.28" r="0.40" fill="#3f5260" opacity="0.75"/>
<circle cx="657.48" cy="490.29" r="0.60" fill="#3f5260" opacity="0.50"/>
<circle cx="646.20" cy="509.14" r="0.75" fill="#3f5260" opacity="0.50"/>
<circle cx="653.01" cy="525.06" r="0.75" fill="#3f5260" opacity="0.50"/>
<circle cx="676.41" cy="503.57" r="0.75" fill="#3f5260" opacity="0.60"/>
<circle cx="643.50" cy="523.12" r="0.40" fill="#3f5260" opacity="0.60"/>
<circle cx="653.64" cy="531.89" r="0.75" fill="#3f5260" opacity="0.35"/>
<circle cx="649.34" cy="498.34" r="0.40" fill="#3f5260" opacity="0.75"/>
<circle cx="660.91" cy="514.95" r="0.45" fill="#3f5260" opacity="0.60"/>
<circle cx="660.58" cy="522.86" r="0.75" fill="#3f5260" opacity="0.35"/>
<circle cx="665.15" cy="498.08" r="0.50" fill="#3f5260" opacity="0.35"/>
<circle cx="656.75" cy="504.73" r="0.50" fill="#3f5260" opacity="0.50"/>
<circle cx="642.85" cy="493.67" r="0.50" fill="#3f5260" opacity="0.35"/>
<circle cx="647.36" cy="501.18" r="0.50" fill="#3f5260" opacity="0.35"/>
<circle cx="673.38" cy="495.00" r="0.50" fill="#3f5260" opacity="0.75"/>
<circle cx="643.43" cy="486.60" r="0.75" fill="#3f5260" opacity="0.50"/>
<circle cx="641.76" cy="490.68" r="0.50" fill="#3f5260" opacity="0.75"/>
<circle cx="645.12" cy="496.71" r="0.30" fill="#3f5260" opacity="0.75"/>
<circle cx="644.84" cy="514.37" r="0.75" fill="#3f5260" opacity="0.50"/>
<circle cx="643.69" cy="512.89" r="0.50" fill="#3f5260" opacity="0.35"/>
<circle cx="638.07" cy="517.84" r="0.75" fill="#3f5260" opacity="0.50"/>
<circle cx="643.64" cy="528.28" r="0.30" fill="#3f5260" opacity="0.75"/>
<circle cx="674.49" cy="494.31" r="0.30" fill="#3f5260" opacity="0.35"/>
<circle cx="657.56" cy="519.52" r="0.75" fill="#3f5260" opacity="0.50"/>
<circle cx="669.79" cy="517.90" r="0.60" fill="#3f5260" opacity="0.75"/>
<circle cx="651.17" cy="488.64" r="0.60" fill="#3f5260" opacity="0.35"/>
<circle cx="664.71" cy="489.07" r="0.60" fill="#3f5260" opacity="0.60"/>
<circle cx="670.47" cy="501.75" r="0.40" fill="#3f5260" opacity="0.50"/>
<circle cx="656.27" cy="491.08" r="0.30" fill="#3f5260" opacity="0.60"/>
<circle cx="654.69" cy="527.36" r="0.50" fill="#3f5260" opacity="0.75"/>
<circle cx="660.63" cy="509.88" r="0.50" fill="#3f5260" opacity="0.60"/>
<circle cx="670.02" cy="519.31" r="0.45" fill="#3f5260" opacity="0.75"/>
<circle cx="630.63" cy="502.82" r="0.40" fill="#3f5260" opacity="0.75"/>
<circle cx="663.87" cy="521.89" r="0.30" fill="#3f5260" opacity="0.50"/>
<circle cx="638.84" cy="500.36" r="0.40" fill="#3f5260" opacity="0.50"/>
<circle cx="645.25" cy="495.40" r="0.50" fill="#3f5260" opacity="0.75"/>
<circle cx="656.58" cy="481.60" r="0.75" fill="#3f5260" opacity="0.50"/>
<circle cx="632.90" cy="511.30" r="0.40" fill="#3f5260" opacity="0.60"/>
<circle cx="646.80" cy="487.23" r="0.50" fill="#3f5260" opacity="0.50"/>
<circle cx="661.04" cy="490.37" r="0.45" fill="#3f5260" opacity="0.60"/>
<circle cx="650.96" cy="518.96" r="0.50" fill="#3f5260" opacity="0.75"/>
<circle cx="644.14" cy="494.32" r="0.75" fill="#3f5260" opacity="0.60"/>
<circle cx="651.73" cy="516.42" r="0.50" fill="#3f5260" opacity="0.35"/>
<circle cx="648.16" cy="504.06" r="0.45" fill="#3f5260" opacity="0.50"/>
<circle cx="644.55" cy="522.35" r="0.60" fill="#3f5260" opacity="0.35"/>
<circle cx="660.17" cy="527.02" r="0.30" fill="#3f5260" opacity="0.60"/>
<circle cx="665.24" cy="514.59" r="0.40" fill="#3f5260" opacity="0.50"/>
<circle cx="644.51" cy="510.27" r="0.40" fill="#3f5260" opacity="0.50"/>
<circle cx="661.27" cy="483.58" r="0.40" fill="#3f5260" opacity="0.35"/>
<circle cx="671.38" cy="494.11" r="0.75" fill="#3f5260" opacity="0.60"/>
<circle cx="651.01" cy="496.40" r="0.60" fill="#3f5260" opacity="0.35"/>
<circle cx="634.65" cy="515.27" r="0.30" fill="#3f5260" opacity="0.35"/>
<circle cx="656.30" cy="520.05" r="0.40" fill="#3f5260" opacity="0.75"/>
<circle cx="671.71" cy="513.43" r="0.50" fill="#3f5260" opacity="0.50"/>
<circle cx="655.46" cy="528.34" r="0.40" fill="#3f5260" opacity="0.35"/>
<circle cx="650.61" cy="516.22" r="0.75" fill="#3f5260" opacity="0.75"/>
<circle cx="663.79" cy="493.26" r="1.50" fill="#8a979d" opacity="0.45"/>
<circle cx="668.05" cy="506.99" r="1.80" fill="#8a979d" opacity="0.45"/>
<circle cx="651.42" cy="502.83" r="1.80" fill="#8a979d" opacity="0.45"/>
<path d="M630.50 518.50 A27 27 0 0 0 649.00 533.30" stroke="#2c3438" stroke-width="2.2" fill="none" opacity="0.55"/>
<path d="M663.00 481.00 A27 27 0 0 1 677.00 491.00" stroke="#2c3438" stroke-width="1.6" fill="none" opacity="0.4"/>
<circle cx="655.00" cy="507.00" r="28.9" fill="none" stroke="#1e1e1e" stroke-width="1.9"/>
<circle cx="721.20" cy="507.00" r="28.2" fill="url(#dish)"/>
<circle cx="741.53" cy="509.64" r="0.30" fill="#3f5260" opacity="0.60"/>
<circle cx="740.25" cy="519.77" r="0.50" fill="#3f5260" opacity="0.75"/>
<circle cx="734.86" cy="524.49" r="0.40" fill="#3f5260" opacity="0.75"/>
<circle cx="710.55" cy="524.12" r="0.75" fill="#3f5260" opacity="0.60"/>
<circle cx="723.85" cy="492.34" r="0.60" fill="#3f5260" opacity="0.50"/>
<circle cx="713.78" cy="518.39" r="0.45" fill="#3f5260" opacity="0.35"/>
<circle cx="715.03" cy="529.35" r="0.50" fill="#3f5260" opacity="0.75"/>
<circle cx="735.86" cy="505.55" r="0.60" fill="#3f5260" opacity="0.60"/>
<circle cx="706.99" cy="486.22" r="0.30" fill="#3f5260" opacity="0.60"/>
<circle cx="718.63" cy="496.12" r="0.40" fill="#3f5260" opacity="0.35"/>
<circle cx="738.35" cy="511.41" r="1.80" fill="#8a979d" opacity="0.45"/>
<circle cx="708.83" cy="515.29" r="1.80" fill="#8a979d" opacity="0.45"/>
<path d="M696.70 518.50 A27 27 0 0 0 715.20 533.30" stroke="#2c3438" stroke-width="2.2" fill="none" opacity="0.55"/>
<path d="M729.20 481.00 A27 27 0 0 1 743.20 491.00" stroke="#2c3438" stroke-width="1.6" fill="none" opacity="0.4"/>
<circle cx="721.20" cy="507.00" r="28.9" fill="none" stroke="#1e1e1e" stroke-width="1.9"/>
<text x="568.60" y="453.00">si-NC</text>
<text x="622.80" y="453.00">si-ADAR1-1</text>
<text x="690.10" y="453.00">si-ADAR1-2</text>
<text x="573.90" y="552.50">si-NC</text>
<text x="628.30" y="552.50">si-ADAR1-1</text>
<text x="694.60" y="552.50">si-ADAR1-2</text>
<text x="606.20" y="585.60">MV4-11</text>
<line x1="579.80" y1="598.40" x2="579.80" y2="721.30" stroke="#231f20" stroke-width="1.60"/>
<line x1="579.80" y1="720.50" x2="657.80" y2="720.50" stroke="#231f20" stroke-width="1.60"/>
<line x1="575.80" y1="720.50" x2="579.80" y2="720.50" stroke="#231f20" stroke-width="1.50"/>
<text x="575.20" y="724.30" text-anchor="end">0</text>
<line x1="575.80" y1="690.17" x2="579.80" y2="690.17" stroke="#231f20" stroke-width="1.50"/>
<text x="575.20" y="693.97" text-anchor="end">50</text>
<line x1="575.80" y1="659.85" x2="579.80" y2="659.85" stroke="#231f20" stroke-width="1.50"/>
<text x="575.20" y="663.65" text-anchor="end">100</text>
<line x1="575.80" y1="629.53" x2="579.80" y2="629.53" stroke="#231f20" stroke-width="1.50"/>
<text x="575.20" y="633.33" text-anchor="end">150</text>
<line x1="575.80" y1="599.20" x2="579.80" y2="599.20" stroke="#231f20" stroke-width="1.50"/>
<text x="575.20" y="603.00" text-anchor="end">200</text>
<rect x="588.00" y="624.67" width="10.70" height="95.83" fill="#4f90cf"/>
<line x1="593.35" y1="624.67" x2="593.35" y2="618.61" stroke="#231f20" stroke-width="1.30"/>
<line x1="589.00" y1="618.61" x2="597.70" y2="618.61" stroke="#231f20" stroke-width="1.60"/>
<line x1="593.35" y1="720.50" x2="593.35" y2="725.50" stroke="#231f20" stroke-width="1.50"/>
<text x="597.85" y="733.00" text-anchor="end" transform="rotate(-45.00 597.85 733.00)">si-NC</text>
<rect x="614.30" y="687.87" width="10.70" height="32.63" fill="#ee7377"/>
<line x1="619.65" y1="687.87" x2="619.65" y2="685.32" stroke="#231f20" stroke-width="1.30"/>
<line x1="615.30" y1="685.32" x2="624.00" y2="685.32" stroke="#231f20" stroke-width="1.60"/>
<text x="619.65" y="684.12" font-size="10.50" text-anchor="middle">**</text>
<line x1="619.65" y1="720.50" x2="619.65" y2="725.50" stroke="#231f20" stroke-width="1.50"/>
<text x="624.15" y="733.00" text-anchor="end" transform="rotate(-45.00 624.15 733.00)">si-ADAR1-1</text>
<rect x="641.00" y="699.64" width="10.70" height="20.86" fill="#f29ea2"/>
<line x1="646.35" y1="699.64" x2="646.35" y2="697.09" stroke="#231f20" stroke-width="1.30"/>
<line x1="642.00" y1="697.09" x2="650.70" y2="697.09" stroke="#231f20" stroke-width="1.60"/>
<text x="646.35" y="695.89" font-size="10.50" text-anchor="middle">**</text>
<line x1="646.35" y1="720.50" x2="646.35" y2="725.50" stroke="#231f20" stroke-width="1.50"/>
<text x="650.85" y="733.00" text-anchor="end" transform="rotate(-45.00 650.85 733.00)">si-ADAR1-2</text>
<text x="698.30" y="585.60">MOLM13</text>
<line x1="689.90" y1="598.40" x2="689.90" y2="721.30" stroke="#231f20" stroke-width="1.60"/>
<line x1="689.90" y1="720.50" x2="768.00" y2="720.50" stroke="#231f20" stroke-width="1.60"/>
<line x1="685.90" y1="720.50" x2="689.90" y2="720.50" stroke="#231f20" stroke-width="1.50"/>
<text x="685.30" y="724.30" text-anchor="end">0</text>
<line x1="685.90" y1="690.17" x2="689.90" y2="690.17" stroke="#231f20" stroke-width="1.50"/>
<text x="685.30" y="693.97" text-anchor="end">50</text>
<line x1="685.90" y1="659.85" x2="689.90" y2="659.85" stroke="#231f20" stroke-width="1.50"/>
<text x="685.30" y="663.65" text-anchor="end">100</text>
<line x1="685.90" y1="629.53" x2="689.90" y2="629.53" stroke="#231f20" stroke-width="1.50"/>
<text x="685.30" y="633.33" text-anchor="end">150</text>
<line x1="685.90" y1="599.20" x2="689.90" y2="599.20" stroke="#231f20" stroke-width="1.50"/>
<text x="685.30" y="603.00" text-anchor="end">200</text>
<rect x="698.50" y="633.35" width="10.70" height="87.15" fill="#4f90cf"/>
<line x1="703.85" y1="633.35" x2="703.85" y2="628.43" stroke="#231f20" stroke-width="1.30"/>
<line x1="699.50" y1="628.43" x2="708.20" y2="628.43" stroke="#231f20" stroke-width="1.60"/>
<line x1="703.85" y1="720.50" x2="703.85" y2="725.50" stroke="#231f20" stroke-width="1.50"/>
<text x="708.35" y="733.00" text-anchor="end" transform="rotate(-45.00 708.35 733.00)">si-NC</text>
<rect x="725.70" y="696.48" width="10.70" height="24.02" fill="#ee7377"/>
<line x1="731.05" y1="696.48" x2="731.05" y2="695.33" stroke="#231f20" stroke-width="1.30"/>
<line x1="726.70" y1="695.33" x2="735.40" y2="695.33" stroke="#231f20" stroke-width="1.60"/>
<text x="731.05" y="694.13" font-size="10.50" text-anchor="middle">**</text>
<line x1="731.05" y1="720.50" x2="731.05" y2="725.50" stroke="#231f20" stroke-width="1.50"/>
<text x="735.55" y="733.00" text-anchor="end" transform="rotate(-45.00 735.55 733.00)">si-ADAR1-1</text>
<rect x="753.20" y="702.00" width="10.70" height="18.50" fill="#f29ea2"/>
<line x1="758.55" y1="702.00" x2="758.55" y2="698.06" stroke="#231f20" stroke-width="1.30"/>
<line x1="754.20" y1="698.06" x2="762.90" y2="698.06" stroke="#231f20" stroke-width="1.60"/>
<text x="758.55" y="696.86" font-size="10.50" text-anchor="middle">**</text>
<line x1="758.55" y1="720.50" x2="758.55" y2="725.50" stroke="#231f20" stroke-width="1.50"/>
<text x="763.05" y="733.00" text-anchor="end" transform="rotate(-45.00 763.05 733.00)">si-ADAR1-2</text>
<text x="554.20" y="660.00" text-anchor="middle" transform="rotate(-90.00 554.20 660.00)">Number of Colonies</text>
<text x="0.80" y="792.20" font-size="15.00" fill="#000" font-weight="bold">h</text>
<text x="47.30" y="798.90">NB4</text>
<line x1="39.60" y1="795.60" x2="39.60" y2="926.90" stroke="#231f20" stroke-width="1.60"/>
<line x1="39.60" y1="926.10" x2="235.00" y2="926.10" stroke="#231f20" stroke-width="1.60"/>
<line x1="35.10" y1="926.10" x2="39.60" y2="926.10" stroke="#231f20" stroke-width="1.50"/>
<text x="34.40" y="929.90" text-anchor="end">0</text>
<line x1="35.10" y1="900.16" x2="39.60" y2="900.16" stroke="#231f20" stroke-width="1.50"/>
<text x="34.40" y="903.96" text-anchor="end">20</text>
<line x1="35.10" y1="874.22" x2="39.60" y2="874.22" stroke="#231f20" stroke-width="1.50"/>
<text x="34.40" y="878.02" text-anchor="end">40</text>
<line x1="35.10" y1="848.28" x2="39.60" y2="848.28" stroke="#231f20" stroke-width="1.50"/>
<text x="34.40" y="852.08" text-anchor="end">60</text>
<line x1="35.10" y1="822.34" x2="39.60" y2="822.34" stroke="#231f20" stroke-width="1.50"/>
<text x="34.40" y="826.14" text-anchor="end">80</text>
<line x1="35.10" y1="796.40" x2="39.60" y2="796.40" stroke="#231f20" stroke-width="1.50"/>
<text x="34.40" y="800.20" text-anchor="end">100</text>
<rect x="46.20" y="842.05" width="9.00" height="84.05" fill="#8e8e95"/>
<line x1="47.50" y1="841.15" x2="53.90" y2="841.15" stroke="#231f20" stroke-width="1.70"/>
<rect x="59.87" y="826.62" width="9.00" height="99.48" fill="#7db4e4"/>
<line x1="61.17" y1="825.71" x2="67.57" y2="825.71" stroke="#231f20" stroke-width="1.70"/>
<rect x="73.54" y="852.95" width="9.00" height="73.15" fill="#c6c68e"/>
<line x1="74.84" y1="852.04" x2="81.24" y2="852.04" stroke="#231f20" stroke-width="1.70"/>
<rect x="87.21" y="836.35" width="9.00" height="89.75" fill="#f4959a"/>
<line x1="88.51" y1="835.44" x2="94.91" y2="835.44" stroke="#231f20" stroke-width="1.70"/>
<line x1="71.20" y1="926.10" x2="71.20" y2="931.10" stroke="#231f20" stroke-width="1.50"/>
<text x="75.70" y="938.60" text-anchor="end" transform="rotate(-45.00 75.70 938.60)">G0/G1</text>
<rect x="110.70" y="906.39" width="9.00" height="19.71" fill="#8e8e95"/>
<line x1="112.00" y1="905.48" x2="118.40" y2="905.48" stroke="#231f20" stroke-width="1.70"/>
<rect x="124.37" y="908.59" width="9.00" height="17.51" fill="#7db4e4"/>
<line x1="125.67" y1="907.68" x2="132.07" y2="907.68" stroke="#231f20" stroke-width="1.70"/>
<rect x="138.04" y="906.77" width="9.00" height="19.33" fill="#c6c68e"/>
<line x1="139.34" y1="905.87" x2="145.74" y2="905.87" stroke="#231f20" stroke-width="1.70"/>
<rect x="151.71" y="908.20" width="9.00" height="17.90" fill="#f4959a"/>
<line x1="153.01" y1="907.29" x2="159.41" y2="907.29" stroke="#231f20" stroke-width="1.70"/>
<line x1="135.71" y1="926.10" x2="135.71" y2="931.10" stroke="#231f20" stroke-width="1.50"/>
<text x="140.21" y="938.60" text-anchor="end" transform="rotate(-45.00 140.21 938.60)">S</text>
<rect x="175.20" y="898.73" width="9.00" height="27.37" fill="#8e8e95"/>
<line x1="176.50" y1="897.83" x2="182.90" y2="897.83" stroke="#231f20" stroke-width="1.70"/>
<rect x="188.87" y="913.13" width="9.00" height="12.97" fill="#7db4e4"/>
<line x1="190.17" y1="912.22" x2="196.57" y2="912.22" stroke="#231f20" stroke-width="1.70"/>
<rect x="202.54" y="887.45" width="9.00" height="38.65" fill="#c6c68e"/>
<line x1="203.84" y1="886.54" x2="210.24" y2="886.54" stroke="#231f20" stroke-width="1.70"/>
<rect x="216.21" y="904.05" width="9.00" height="22.05" fill="#f4959a"/>
<line x1="217.51" y1="903.14" x2="223.91" y2="903.14" stroke="#231f20" stroke-width="1.70"/>
<line x1="200.20" y1="926.10" x2="200.20" y2="931.10" stroke="#231f20" stroke-width="1.50"/>
<text x="204.70" y="938.60" text-anchor="end" transform="rotate(-45.00 204.70 938.60)">G2/M</text>
<rect x="109.80" y="802.50" width="14.20" height="6.90" fill="#8e8e95"/>
<text x="128.80" y="809.70">si-NC+PCDH-NC</text>
<rect x="109.80" y="817.40" width="14.20" height="6.90" fill="#7db4e4"/>
<text x="128.80" y="824.60">si-LNC-SNO49AB+PCDH-NC</text>
<rect x="109.80" y="832.30" width="14.20" height="6.90" fill="#c6c68e"/>
<text x="128.80" y="839.50">si-NC+ADAR1</text>
<rect x="109.80" y="847.20" width="14.20" height="6.90" fill="#f4959a"/>
<text x="128.80" y="854.40">si-LNC-SNO49AB+ADAR1</text>
<path d="M50.70 822.70 L50.70 818.70 L63.37 818.70 L63.37 822.70" fill="none" stroke="#231f20" stroke-width="1.30"/>
<path d="M65.37 822.70 L65.37 818.70 L91.71 818.70 L91.71 822.70" fill="none" stroke="#231f20" stroke-width="1.30"/>
<text x="57.54" y="819.90" font-size="9.50" text-anchor="middle">***</text>
<text x="78.04" y="819.90" font-size="9.50" text-anchor="middle">***</text>
<text x="301.50" y="799.00">MV4-11</text>
<line x1="292.00" y1="794.60" x2="292.00" y2="926.40" stroke="#231f20" stroke-width="1.60"/>
<line x1="292.00" y1="925.60" x2="513.40" y2="925.60" stroke="#231f20" stroke-width="1.60"/>
<line x1="287.50" y1="925.60" x2="292.00" y2="925.60" stroke="#231f20" stroke-width="1.50"/>
<text x="286.80" y="929.40" text-anchor="end">0</text>
<line x1="287.50" y1="893.05" x2="292.00" y2="893.05" stroke="#231f20" stroke-width="1.50"/>
<text x="286.80" y="896.85" text-anchor="end">20</text>
<line x1="287.50" y1="860.50" x2="292.00" y2="860.50" stroke="#231f20" stroke-width="1.50"/>
<text x="286.80" y="864.30" text-anchor="end">40</text>
<line x1="287.50" y1="827.95" x2="292.00" y2="827.95" stroke="#231f20" stroke-width="1.50"/>
<text x="286.80" y="831.75" text-anchor="end">60</text>
<line x1="287.50" y1="795.40" x2="292.00" y2="795.40" stroke="#231f20" stroke-width="1.50"/>
<text x="286.80" y="799.20" text-anchor="end">80</text>
<rect x="299.20" y="828.93" width="9.00" height="96.67" fill="#8e8e95"/>
<line x1="300.50" y1="827.79" x2="306.90" y2="827.79" stroke="#231f20" stroke-width="1.70"/>
<rect x="312.87" y="818.84" width="9.00" height="106.76" fill="#7db4e4"/>
<line x1="314.17" y1="817.70" x2="320.57" y2="817.70" stroke="#231f20" stroke-width="1.70"/>
<rect x="326.54" y="844.88" width="9.00" height="80.72" fill="#c6c68e"/>
<line x1="327.84" y1="843.74" x2="334.24" y2="843.74" stroke="#231f20" stroke-width="1.70"/>
<rect x="340.21" y="834.79" width="9.00" height="90.81" fill="#f4959a"/>
<line x1="341.51" y1="833.65" x2="347.91" y2="833.65" stroke="#231f20" stroke-width="1.70"/>
<line x1="324.20" y1="925.60" x2="324.20" y2="930.60" stroke="#231f20" stroke-width="1.50"/>
<text x="328.70" y="938.10" text-anchor="end" transform="rotate(-45.00 328.70 938.10)">G0/G1</text>
<rect x="363.70" y="903.14" width="9.00" height="22.46" fill="#8e8e95"/>
<line x1="365.00" y1="902.00" x2="371.40" y2="902.00" stroke="#231f20" stroke-width="1.70"/>
<rect x="377.37" y="905.58" width="9.00" height="20.02" fill="#7db4e4"/>
<line x1="378.67" y1="904.44" x2="385.07" y2="904.44" stroke="#231f20" stroke-width="1.70"/>
<rect x="391.04" y="898.26" width="9.00" height="27.34" fill="#c6c68e"/>
<line x1="392.34" y1="897.12" x2="398.74" y2="897.12" stroke="#231f20" stroke-width="1.70"/>
<rect x="404.71" y="901.68" width="9.00" height="23.92" fill="#f4959a"/>
<line x1="406.01" y1="900.54" x2="412.41" y2="900.54" stroke="#231f20" stroke-width="1.70"/>
<line x1="388.70" y1="925.60" x2="388.70" y2="930.60" stroke="#231f20" stroke-width="1.50"/>
<text x="393.20" y="938.10" text-anchor="end" transform="rotate(-45.00 393.20 938.10)">S</text>
<rect x="428.20" y="884.10" width="9.00" height="41.50" fill="#8e8e95"/>
<line x1="429.50" y1="882.96" x2="435.90" y2="882.96" stroke="#231f20" stroke-width="1.70"/>
<rect x="441.87" y="890.61" width="9.00" height="34.99" fill="#7db4e4"/>
<line x1="443.17" y1="889.47" x2="449.57" y2="889.47" stroke="#231f20" stroke-width="1.70"/>
<rect x="455.54" y="872.22" width="9.00" height="53.38" fill="#c6c68e"/>
<line x1="456.84" y1="871.08" x2="463.24" y2="871.08" stroke="#231f20" stroke-width="1.70"/>
<rect x="469.21" y="879.38" width="9.00" height="46.22" fill="#f4959a"/>
<line x1="470.51" y1="878.24" x2="476.91" y2="878.24" stroke="#231f20" stroke-width="1.70"/>
<line x1="453.20" y1="925.60" x2="453.20" y2="930.60" stroke="#231f20" stroke-width="1.50"/>
<text x="457.70" y="938.10" text-anchor="end" transform="rotate(-45.00 457.70 938.10)">G2/M</text>
<rect x="361.50" y="799.20" width="14.20" height="6.90" fill="#8e8e95"/>
<text x="379.70" y="806.40">si-NC+PCDH-NC</text>
<rect x="361.50" y="814.10" width="14.20" height="6.90" fill="#7db4e4"/>
<text x="379.70" y="821.30">si-LNC-SNO49AB+PCDH-NC</text>
<rect x="361.50" y="829.00" width="14.20" height="6.90" fill="#c6c68e"/>
<text x="379.70" y="836.20">si-NC+ADAR1</text>
<rect x="361.50" y="843.90" width="14.20" height="6.90" fill="#f4959a"/>
<text x="379.70" y="851.10">si-LNC-SNO49AB+ADAR1</text>
<path d="M303.70 814.90 L303.70 810.90 L316.37 810.90 L316.37 814.90" fill="none" stroke="#231f20" stroke-width="1.30"/>
<path d="M318.37 814.90 L318.37 810.90 L344.71 810.90 L344.71 814.90" fill="none" stroke="#231f20" stroke-width="1.30"/>
<text x="310.53" y="812.10" font-size="9.50" text-anchor="middle">***</text>
<text x="331.04" y="812.10" font-size="9.50" text-anchor="middle">***</text>
<text x="555.70" y="797.50">MOLM13</text>
<line x1="548.70" y1="795.10" x2="548.70" y2="926.40" stroke="#231f20" stroke-width="1.60"/>
<line x1="548.70" y1="925.60" x2="747.70" y2="925.60" stroke="#231f20" stroke-width="1.60"/>
<line x1="544.20" y1="925.60" x2="548.70" y2="925.60" stroke="#231f20" stroke-width="1.50"/>
<text x="543.50" y="929.40" text-anchor="end">0</text>
<line x1="544.20" y1="899.66" x2="548.70" y2="899.66" stroke="#231f20" stroke-width="1.50"/>
<text x="543.50" y="903.46" text-anchor="end">20</text>
<line x1="544.20" y1="873.72" x2="548.70" y2="873.72" stroke="#231f20" stroke-width="1.50"/>
<text x="543.50" y="877.52" text-anchor="end">40</text>
<line x1="544.20" y1="847.78" x2="548.70" y2="847.78" stroke="#231f20" stroke-width="1.50"/>
<text x="543.50" y="851.58" text-anchor="end">60</text>
<line x1="544.20" y1="821.84" x2="548.70" y2="821.84" stroke="#231f20" stroke-width="1.50"/>
<text x="543.50" y="825.64" text-anchor="end">80</text>
<line x1="544.20" y1="795.90" x2="548.70" y2="795.90" stroke="#231f20" stroke-width="1.50"/>
<text x="543.50" y="799.70" text-anchor="end">100</text>
<rect x="555.90" y="869.83" width="9.00" height="55.77" fill="#8e8e95"/>
<line x1="557.20" y1="868.92" x2="563.60" y2="868.92" stroke="#231f20" stroke-width="1.70"/>
<rect x="569.57" y="848.69" width="9.00" height="76.91" fill="#7db4e4"/>
<line x1="570.87" y1="847.78" x2="577.27" y2="847.78" stroke="#231f20" stroke-width="1.70"/>
<rect x="583.24" y="885.00" width="9.00" height="40.60" fill="#c6c68e"/>
<line x1="584.54" y1="884.10" x2="590.94" y2="884.10" stroke="#231f20" stroke-width="1.70"/>
<rect x="596.91" y="864.25" width="9.00" height="61.35" fill="#f4959a"/>
<line x1="598.21" y1="863.34" x2="604.61" y2="863.34" stroke="#231f20" stroke-width="1.70"/>
<line x1="580.90" y1="925.60" x2="580.90" y2="930.60" stroke="#231f20" stroke-width="1.50"/>
<text x="585.40" y="938.10" text-anchor="end" transform="rotate(-45.00 585.40 938.10)">G0/G1</text>
<rect x="620.40" y="900.57" width="9.00" height="25.03" fill="#8e8e95"/>
<line x1="621.70" y1="899.66" x2="628.10" y2="899.66" stroke="#231f20" stroke-width="1.70"/>
<rect x="634.07" y="900.31" width="9.00" height="25.29" fill="#7db4e4"/>
<line x1="635.37" y1="899.40" x2="641.77" y2="899.40" stroke="#231f20" stroke-width="1.70"/>
<rect x="647.74" y="901.86" width="9.00" height="23.74" fill="#c6c68e"/>
<line x1="649.04" y1="900.96" x2="655.44" y2="900.96" stroke="#231f20" stroke-width="1.70"/>
<rect x="661.41" y="903.55" width="9.00" height="22.05" fill="#f4959a"/>
<line x1="662.71" y1="902.64" x2="669.11" y2="902.64" stroke="#231f20" stroke-width="1.70"/>
<line x1="645.40" y1="925.60" x2="645.40" y2="930.60" stroke="#231f20" stroke-width="1.50"/>
<text x="649.90" y="938.10" text-anchor="end" transform="rotate(-45.00 649.90 938.10)">S</text>
<rect x="684.90" y="877.87" width="9.00" height="47.73" fill="#8e8e95"/>
<line x1="686.20" y1="876.96" x2="692.60" y2="876.96" stroke="#231f20" stroke-width="1.70"/>
<rect x="698.57" y="898.49" width="9.00" height="27.11" fill="#7db4e4"/>
<line x1="699.87" y1="897.58" x2="706.27" y2="897.58" stroke="#231f20" stroke-width="1.70"/>
<rect x="712.24" y="859.06" width="9.00" height="66.54" fill="#c6c68e"/>
<line x1="713.54" y1="858.16" x2="719.94" y2="858.16" stroke="#231f20" stroke-width="1.70"/>
<rect x="725.91" y="881.37" width="9.00" height="44.23" fill="#f4959a"/>
<line x1="727.21" y1="880.46" x2="733.61" y2="880.46" stroke="#231f20" stroke-width="1.70"/>
<line x1="709.90" y1="925.60" x2="709.90" y2="930.60" stroke="#231f20" stroke-width="1.50"/>
<text x="714.40" y="938.10" text-anchor="end" transform="rotate(-45.00 714.40 938.10)">G2/M</text>
<rect x="620.20" y="790.90" width="14.20" height="6.90" fill="#8e8e95"/>
<text x="638.10" y="798.10">si-NC+PCDH-NC</text>
<rect x="620.20" y="805.80" width="14.20" height="6.90" fill="#7db4e4"/>
<text x="638.10" y="813.00">si-LNC-SNO49AB+PCDH-NC</text>
<rect x="620.20" y="820.70" width="14.20" height="6.90" fill="#c6c68e"/>
<text x="638.10" y="827.90">si-NC+ADAR1</text>
<rect x="620.20" y="835.60" width="14.20" height="6.90" fill="#f4959a"/>
<text x="638.10" y="842.80">si-LNC-SNO49AB+ADAR1</text>
<path d="M560.40 837.80 L560.40 833.80 L573.07 833.80 L573.07 837.80" fill="none" stroke="#231f20" stroke-width="1.30"/>
<path d="M575.07 837.80 L575.07 833.80 L601.41 833.80 L601.41 837.80" fill="none" stroke="#231f20" stroke-width="1.30"/>
<text x="567.23" y="835.00" font-size="9.50" text-anchor="middle">***</text>
<text x="587.74" y="835.00" font-size="9.50" text-anchor="middle">***</text>
<text x="12.90" y="862.30" text-anchor="middle" transform="rotate(-90.00 12.90 862.30)">percentage of cell(%)</text>
</g></svg></body></html>
